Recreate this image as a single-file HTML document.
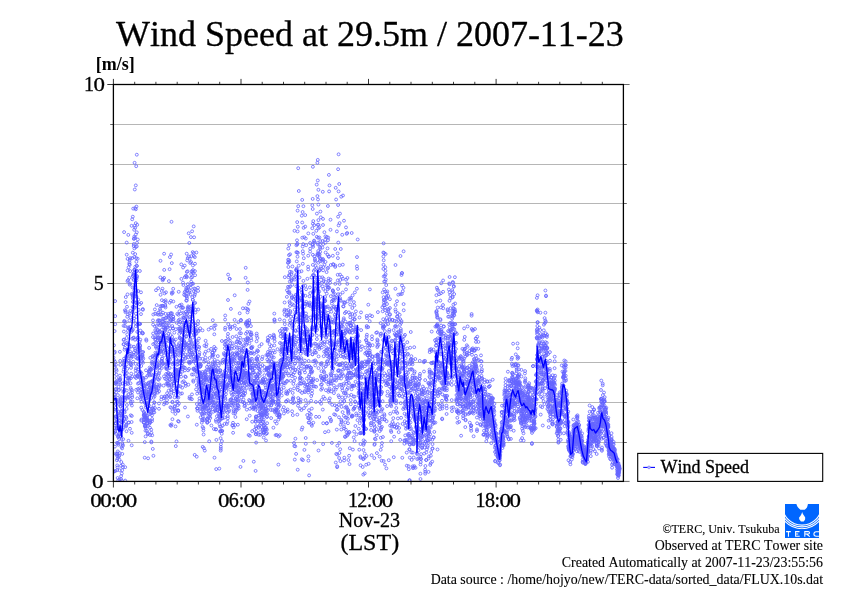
<!DOCTYPE html>
<html><head><meta charset="utf-8"><title>Wind Speed at 29.5m / 2007-11-23</title>
<style>
html,body{margin:0;padding:0;background:#fff;}
body{width:842px;height:595px;overflow:hidden;position:relative;font-family:"Liberation Serif",serif;color:#000;}
svg{position:absolute;left:0;top:0;}
text{font-family:"Liberation Serif",serif;fill:#000;font-kerning:none;font-variant-ligatures:none;stroke:#000;stroke-width:0.3px;}
</style></head><body>
<svg width="842" height="595" viewBox="0 0 842 595" style="will-change:transform">
<defs>
<marker id="m" markerUnits="userSpaceOnUse" markerWidth="6" markerHeight="6" refX="3" refY="3" viewBox="0 0 6 6" overflow="visible"><circle cx="3" cy="3" r="1.45" fill="none" stroke="#6464ff" stroke-width="0.8"/></marker>
<clipPath id="cp"><rect x="113.4" y="84.9" width="510.2" height="396.9"/></clipPath>
</defs>
<rect width="842" height="595" fill="#fff"/>
<!-- title -->
<text id="title" x="369.9" y="46.3" font-size="36" text-anchor="middle">Wind Speed at 29.5m / 2007-11-23</text>
<text id="unit" x="95.7" y="69.8" font-size="18" font-weight="bold" style="stroke-width:0">[m/s]</text>
<!-- grid -->
<line x1="113.4" y1="442.5" x2="623.6" y2="442.5" stroke="#b6b6b6" stroke-width="1" shape-rendering="crispEdges"/>
<line x1="113.4" y1="402.5" x2="623.6" y2="402.5" stroke="#b6b6b6" stroke-width="1" shape-rendering="crispEdges"/>
<line x1="113.4" y1="362.5" x2="623.6" y2="362.5" stroke="#b6b6b6" stroke-width="1" shape-rendering="crispEdges"/>
<line x1="113.4" y1="322.5" x2="623.6" y2="322.5" stroke="#b6b6b6" stroke-width="1" shape-rendering="crispEdges"/>
<line x1="113.4" y1="283.5" x2="623.6" y2="283.5" stroke="#b6b6b6" stroke-width="1" shape-rendering="crispEdges"/>
<line x1="113.4" y1="243.5" x2="623.6" y2="243.5" stroke="#b6b6b6" stroke-width="1" shape-rendering="crispEdges"/>
<line x1="113.4" y1="203.5" x2="623.6" y2="203.5" stroke="#b6b6b6" stroke-width="1" shape-rendering="crispEdges"/>
<line x1="113.4" y1="164.5" x2="623.6" y2="164.5" stroke="#b6b6b6" stroke-width="1" shape-rendering="crispEdges"/>
<line x1="113.4" y1="124.5" x2="623.6" y2="124.5" stroke="#b6b6b6" stroke-width="1" shape-rendering="crispEdges"/>
<!-- scatter -->
<g clip-path="url(#cp)">
<polyline fill="none" stroke="none" marker-start="url(#m)" marker-mid="url(#m)" marker-end="url(#m)" points="113.4,399.5 113.5,357.3 113.5,403.6 113.6,411.3 113.6,409.3 113.7,432.5 113.8,471.5 113.8,417.6 113.9,397.8 113.9,471.5 114,360.3 114,345.3 114.1,391.5 114.2,365.2 114.2,394.6 114.3,399 114.3,373.2 114.4,427.6 114.5,396.6 114.5,352.9 114.6,331.1 114.6,366.9 114.7,351.7 114.8,425.7 114.8,421.2 114.9,397.5 114.9,446.6 115,430.8 115,361.7 115.1,301.1 115.2,316.1 115.2,324.2 115.3,383.4 115.3,432 115.4,471 115.5,422.9 115.5,389.1 115.6,416.3 115.6,453.8 115.7,423.4 115.8,404.1 115.8,407.7 115.9,364.8 115.9,382.4 116,392.4 116,433.8 116.1,416.8 116.2,369.2 116.2,381.6 116.3,389.1 116.3,382.9 116.4,384.3 116.5,378 116.5,374.6 116.6,370.7 116.6,409.6 116.7,401.1 116.8,454.1 116.8,428.4 116.9,460.3 116.9,442.8 117,417.1 117,427.8 117.1,419.8 117.2,465.4 117.2,470.1 117.3,428.3 117.3,456 117.4,422.3 117.5,458.7 117.5,467.4 117.6,478 117.6,453.4 117.7,425.7 117.8,451.4 117.8,443.6 117.9,395.1 117.9,413.5 118,437.1 118,422 118.1,427.8 118.2,442.9 118.2,480.5 118.3,436.3 118.3,444.8 118.4,435.9 118.5,456.9 118.5,412.1 118.6,399.4 118.6,386.9 118.7,403.5 118.8,400.7 118.8,389.7 118.9,380.4 118.9,390.2 119,404.6 119,420.3 119.1,439.1 119.2,455.9 119.2,433.6 119.3,434.8 119.3,479.5 119.4,459.7 119.5,418.2 119.5,425.8 119.6,470.3 119.6,453.1 119.7,420.3 119.7,415.2 119.8,427.3 119.9,380 119.9,351.8 120,379.6 120,375.6 120.1,382.8 120.2,378.6 120.2,360.9 120.3,364.9 120.3,384.1 120.4,413.8 120.5,436.2 120.5,430.2 120.6,398.3 120.6,400 120.7,406.8 120.7,406.2 120.8,411.1 120.9,402.2 120.9,436.4 121,479 121,465.8 121.1,476.1 121.2,415.3 121.2,421.5 121.3,427.6 121.3,462 121.4,439.1 121.5,447 121.5,411.3 121.6,397 121.6,424.8 121.7,414.8 121.7,480.6 121.8,473.5 121.9,422.6 121.9,403.1 122,405.2 122,411.1 122.1,448.4 122.2,470.2 122.2,443 122.3,388.9 122.3,453.9 122.4,422.2 122.5,403.7 122.5,383.5 122.6,417.2 122.6,429.1 122.7,420.8 122.7,444.5 122.8,464.6 122.9,467.2 122.9,445.8 123,420.4 123,415.9 123.1,410.1 123.2,427.6 123.2,439.2 123.3,392 123.3,397.2 123.4,400.8 123.5,371.7 123.5,344.3 123.6,325.8 123.6,340 123.7,362.5 123.7,364.9 123.8,369.4 123.9,331.5 123.9,344.1 124,339.5 124,358.7 124.1,321.6 124.2,418.9 124.2,391.3 124.3,360.7 124.3,411.4 124.4,320.9 124.5,349.7 124.5,367.3 124.6,412.4 124.6,365.2 124.7,361.1 124.7,389.7 124.8,375 124.9,347.8 124.9,310.2 125,326 125,382.4 125.1,400.1 125.2,480.6 125.2,467.2 125.3,397.8 125.3,367.1 125.4,372 125.5,384.4 125.5,312.2 125.6,322.2 125.6,302.1 125.7,311 125.7,360.6 125.8,297.1 125.9,376.1 125.9,421.9 126,416.9 126,426.5 126.1,424.9 126.2,425.5 126.2,357.8 126.3,356.9 126.3,343.3 126.4,418.2 126.5,431.2 126.5,356 126.6,408.9 126.6,338 126.7,390.4 126.7,364.4 126.8,397.9 126.9,373 126.9,405 127,396.4 127,306.8 127.1,342.5 127.2,334.4 127.2,316.8 127.3,383.2 127.3,368.8 127.4,380.8 127.5,294.4 127.5,281.2 127.6,258.9 127.6,270.4 127.7,344.5 127.7,352.6 127.8,351.9 127.9,330.8 127.9,378.1 128,360.4 128,314.3 128.1,280.1 128.2,349.9 128.2,327.4 128.3,328.2 128.3,384 128.4,348.5 128.5,440.8 128.5,394.2 128.6,267.3 128.6,344.6 128.7,344.4 128.7,422.6 128.8,422.5 128.9,360.9 128.9,397.3 129,377.5 129,378.5 129.1,379.9 129.2,356.6 129.2,329.3 129.3,277.8 129.3,264.1 129.4,320.5 129.5,262.4 129.5,328.2 129.6,347 129.6,313.4 129.7,284.7 129.7,259.9 129.8,264.8 129.9,351.3 129.9,355.7 130,428.8 130,398.6 130.1,283.6 130.2,271.1 130.2,326.9 130.3,311 130.3,362.7 130.4,393.2 130.5,364.1 130.5,383.3 130.6,387.8 130.6,317.4 130.7,389.3 130.7,415.3 130.8,401.9 130.9,378.2 130.9,364.4 131,403.5 131,367.9 131.1,357.9 131.2,331.9 131.2,373.6 131.3,346.4 131.3,330.2 131.4,356.1 131.4,353.7 131.5,365.2 131.6,294 131.6,422 131.7,432.8 131.7,445.3 131.8,416 131.9,405.5 131.9,390.1 132,338.7 132,392.3 132.1,395.4 132.2,376.6 132.2,397.2 132.3,356.6 132.3,330.6 132.4,354.4 132.4,401.5 132.5,312 132.6,295.7 132.6,287.5 132.7,297.7 132.7,306.9 132.8,276 132.9,294.3 132.9,329.4 133,295.7 133,302 133.1,338.1 133.2,361.8 133.2,299.1 133.3,278.8 133.3,309.3 133.4,273.8 133.4,320.6 133.5,301.5 133.6,306.8 133.6,274.9 133.7,246 133.7,280.1 133.8,275.1 133.9,337.6 133.9,352.3 134,346.7 134,318.6 134.1,272.8 134.2,269.9 134.2,229.8 134.3,290.7 134.3,236.6 134.4,287.3 134.4,248.4 134.5,307.8 134.6,293.1 134.6,295.5 134.7,277.8 134.7,269.4 134.8,284.3 134.9,294.1 134.9,287.5 135,339.7 135,348.5 135.1,376.9 135.2,350.4 135.2,270.1 135.3,266.7 135.3,296.3 135.4,323.1 135.4,274.3 135.5,302.5 135.6,354.5 135.6,363.9 135.7,370.4 135.7,373.6 135.8,326.2 135.9,313.7 135.9,357.5 136,353.8 136,368.3 136.1,378 136.2,389.8 136.2,305.5 136.3,316.9 136.3,290.9 136.4,261.8 136.4,296.7 136.5,280.5 136.6,270.6 136.6,278.3 136.7,302.4 136.7,265.7 136.8,277.1 136.9,266 136.9,271.2 137,242.9 137,276.1 137.1,324.6 137.2,351.5 137.2,358.6 137.3,331.9 137.3,398.3 137.4,376.5 137.4,358.3 137.5,375.8 137.6,338.1 137.6,303 137.7,339.8 137.7,350 137.8,369.6 137.9,345 137.9,383.6 138,392.5 138,389 138.1,337.3 138.2,299.6 138.2,291 138.3,351.8 138.3,346.5 138.4,369.2 138.4,347.3 138.5,376.1 138.6,374.3 138.6,364.6 138.7,343.9 138.7,348.4 138.8,309.9 138.9,323.5 138.9,383 139,347.4 139,358 139.1,373.6 139.2,323.9 139.2,364.9 139.3,360 139.3,376.9 139.4,333.2 139.4,354.4 139.5,350.7 139.6,388.3 139.6,341.8 139.7,377.6 139.7,349.2 139.8,324 139.9,304.2 139.9,271 140,348.3 140,345 140.1,350.4 140.2,346.1 140.2,323.9 140.3,339.7 140.3,372.2 140.4,373.1 140.4,330.6 140.5,376.5 140.6,372 140.6,392.6 140.7,358.1 140.7,399.2 140.8,395.7 140.9,389.3 140.9,380.2 141,314.1 141,292.3 141.1,356.8 141.2,302.9 141.2,366 141.3,407.6 141.3,420.6 141.4,401.8 141.4,381.4 141.5,419.5 141.6,397.1 141.6,395.2 141.7,373.7 141.7,384.3 141.8,362 141.9,355.9 141.9,391.7 142,354.7 142,360.9 142.1,352.1 142.2,332.5 142.2,377.4 142.3,381.7 142.3,398.8 142.4,410 142.4,395.8 142.5,384.9 142.6,355.1 142.6,333.5 142.7,357.3 142.7,387.8 142.8,309 142.9,309.8 142.9,333.2 143,378.7 143,391.5 143.1,385.2 143.1,362.7 143.2,352 143.3,358.7 143.3,377.9 143.4,380.1 143.4,391.1 143.5,390.2 143.6,393.2 143.6,382.8 143.7,419.1 143.7,415.1 143.8,411.8 143.9,422.3 143.9,414.9 144,423 144,422.5 144.1,417 144.1,413 144.2,415.5 144.3,388.7 144.3,388.1 144.4,385.4 144.4,385.7 144.5,402.5 144.6,414.9 144.6,393.9 144.7,401.9 144.7,457.7 144.8,442.1 144.9,425.7 144.9,426.1 145,417.4 145,418.9 145.1,417.8 145.1,413.8 145.2,426.4 145.3,417.3 145.3,394.5 145.4,384.2 145.4,419.6 145.5,430.7 145.6,436.4 145.6,427.8 145.7,405.4 145.7,398.7 145.8,426.3 145.9,416.8 145.9,398.3 146,407.6 146,370.3 146.1,396.5 146.1,377.5 146.2,339.4 146.3,392.6 146.3,402.9 146.4,393.6 146.4,340.7 146.5,398.4 146.6,391.1 146.6,391.8 146.7,404.5 146.7,417.6 146.8,420.5 146.9,419.2 146.9,430.9 147,397.8 147,418.3 147.1,419.9 147.1,423.9 147.2,423.1 147.3,415.7 147.3,423 147.4,420.3 147.4,386.9 147.5,375.8 147.6,394.7 147.6,384 147.7,407 147.7,403.9 147.8,425.9 147.9,433.2 147.9,434.2 148,406.7 148,402.9 148.1,458.3 148.1,397 148.2,394.3 148.3,391.6 148.3,383.3 148.4,389.5 148.4,410.9 148.5,420.1 148.6,394.4 148.6,371.5 148.7,374.3 148.7,414.4 148.8,382.6 148.9,385.1 148.9,393.8 149,397 149,405.4 149.1,371.1 149.1,347.9 149.2,392.3 149.3,399.3 149.3,394.6 149.4,372.4 149.4,423.8 149.5,400.2 149.6,367.6 149.6,387.7 149.7,393.4 149.7,371.2 149.8,375.4 149.9,408.9 149.9,422.5 150,427.8 150,435 150.1,422.5 150.1,420.9 150.2,411.5 150.3,393.6 150.3,357.8 150.4,369.7 150.4,414 150.5,381.9 150.6,390.1 150.6,368.8 150.7,389.1 150.7,386 150.8,392.4 150.9,394.1 150.9,368.7 151,392.7 151,390.5 151.1,388 151.1,397.9 151.2,429.7 151.3,412.1 151.3,441.5 151.4,442.4 151.4,432.8 151.5,413.1 151.6,390.2 151.6,374.6 151.7,369.6 151.7,386.7 151.8,363.4 151.9,381.2 151.9,361.6 152,415.3 152,421.1 152.1,419 152.1,408.8 152.2,435.3 152.3,408.1 152.3,382.2 152.4,368.4 152.4,387.6 152.5,356.2 152.6,381.6 152.6,364.5 152.7,375.5 152.7,380.7 152.8,448.9 152.9,386.9 152.9,362.4 153,337.1 153,320.4 153.1,324.6 153.1,333.5 153.2,344.2 153.3,314.5 153.3,356.1 153.4,381.5 153.4,455.8 153.5,412.4 153.6,405.5 153.6,397.7 153.7,409.9 153.7,409.3 153.8,385.1 153.9,387.9 153.9,383.1 154,357.9 154,380.4 154.1,402.2 154.1,394 154.2,378.8 154.3,412.4 154.3,386.9 154.4,389.3 154.4,392.6 154.5,402.7 154.6,396.1 154.6,366.7 154.7,357.1 154.7,343.4 154.8,365 154.9,326.4 154.9,309.4 155,337.3 155,408.1 155.1,393.7 155.1,313.7 155.2,339.8 155.3,377.2 155.3,330.1 155.4,362.6 155.4,352.7 155.5,339 155.6,386.2 155.6,376.4 155.7,342.8 155.7,361.4 155.8,346.9 155.8,355.7 155.9,332.3 156,290.2 156,354.2 156.1,366 156.1,355.7 156.2,374.8 156.3,389.1 156.3,387.2 156.4,384.4 156.4,390.6 156.5,372.9 156.6,348.4 156.6,333.6 156.7,326.1 156.7,305.1 156.8,366.4 156.8,367.3 156.9,360.1 157,346.5 157,390.4 157.1,330 157.1,365.9 157.2,356.7 157.3,337.6 157.3,314.2 157.4,352.3 157.4,368.5 157.5,355.1 157.6,340.4 157.6,321.2 157.7,338.4 157.7,364.8 157.8,392.6 157.8,334.7 157.9,379.1 158,353.2 158,347.5 158.1,330 158.1,312.7 158.2,288.2 158.3,320.1 158.3,323.9 158.4,386.9 158.4,374.7 158.5,388.4 158.6,379.9 158.6,337.8 158.7,342 158.7,314.7 158.8,337.4 158.8,332.7 158.9,352.9 159,408.8 159,403.5 159.1,391.3 159.1,373.3 159.2,365 159.3,363 159.3,331.7 159.4,320.6 159.4,344.6 159.5,320.8 159.6,384.5 159.6,378.1 159.7,370.8 159.7,325.2 159.8,350.2 159.8,385.8 159.9,367.3 160,309.1 160,331.4 160.1,340.5 160.1,348.9 160.2,346.6 160.3,306.3 160.3,323.3 160.4,277.4 160.4,310.7 160.5,260.8 160.6,294.8 160.6,314.6 160.7,338.6 160.7,350.6 160.8,342 160.8,351.8 160.9,337.5 161,338.3 161,324.6 161.1,344.6 161.1,350.8 161.2,341.9 161.3,399.5 161.3,340.4 161.4,306 161.4,354.3 161.5,396.8 161.6,360.7 161.6,361.1 161.7,314.5 161.7,329.8 161.8,368 161.8,290.9 161.9,300.2 162,332.9 162,358.6 162.1,336.8 162.1,358.5 162.2,341.7 162.3,305.8 162.3,361.8 162.4,364 162.4,342.5 162.5,288.7 162.6,279 162.6,321.3 162.7,280.4 162.7,318.8 162.8,333.5 162.8,325.3 162.9,363.1 163,305.9 163,312.7 163.1,279.2 163.1,324.5 163.2,364.1 163.3,344.8 163.3,322 163.4,341.7 163.4,346.9 163.5,327.5 163.6,334.8 163.6,385.6 163.7,351.9 163.7,340.9 163.8,318.8 163.8,350.8 163.9,398.3 164,404.4 164,376.4 164.1,301.2 164.1,277.9 164.2,269.9 164.3,347.6 164.3,355.5 164.4,338.2 164.4,327.5 164.5,331.6 164.6,293.4 164.6,343 164.7,396.4 164.7,397 164.8,402.8 164.8,322.6 164.9,337.8 165,378.5 165,350.1 165.1,318.5 165.1,328.7 165.2,330.4 165.3,305 165.3,306.2 165.4,344.6 165.4,328.6 165.5,307.5 165.6,313.9 165.6,300.3 165.7,302 165.7,329.4 165.8,342.1 165.8,327.3 165.9,352.5 166,317.8 166,292.3 166.1,374 166.1,367.2 166.2,379.5 166.3,383.9 166.3,368.7 166.4,366.8 166.4,346.4 166.5,340.3 166.6,335.3 166.6,364 166.7,369 166.7,322.6 166.8,396.6 166.8,337.7 166.9,403 167,325.4 167,400.1 167.1,393.2 167.1,359.4 167.2,354.6 167.3,327.1 167.3,363.2 167.4,374.7 167.4,383.3 167.5,361.4 167.5,348 167.6,355.6 167.7,363.6 167.7,369 167.8,363 167.8,383.9 167.9,376 168,373.2 168,380.7 168.1,385.7 168.1,338.3 168.2,363.6 168.3,352.1 168.3,317.1 168.4,313.9 168.4,333.8 168.5,316.2 168.5,372.9 168.6,395.1 168.7,390.6 168.7,383.9 168.8,376.7 168.8,318.1 168.9,281.1 169,315.5 169,325.4 169.1,362.7 169.1,351.6 169.2,385.5 169.3,337.4 169.3,358.3 169.4,341.3 169.4,379.1 169.5,331.5 169.5,321.8 169.6,269.2 169.7,302.7 169.7,368 169.8,380.1 169.8,396.5 169.9,338.4 170,359.6 170,374.1 170.1,348.1 170.1,340.1 170.2,328.5 170.3,350.9 170.3,397.2 170.4,407.2 170.4,425 170.5,374 170.5,340.1 170.6,354.4 170.7,335.1 170.7,321.3 170.8,313.9 170.8,313 170.9,300.9 171,320 171,389.5 171.1,425.8 171.1,376.3 171.2,351.8 171.3,407.9 171.3,385.1 171.4,392.6 171.4,390.3 171.5,424.3 171.5,386.4 171.6,376.4 171.7,346.7 171.7,318.1 171.8,292.6 171.8,263.1 171.9,293.8 172,313.4 172,349.1 172.1,336.9 172.1,351 172.2,381.6 172.3,340.3 172.3,326 172.4,401.8 172.4,419.2 172.5,402.3 172.5,411.4 172.6,364.2 172.7,356.3 172.7,340.6 172.8,319.5 172.8,292.6 172.9,328.3 173,321.3 173,328.6 173.1,316.5 173.1,316.8 173.2,288.8 173.3,301.5 173.3,339.7 173.4,344 173.4,378.2 173.5,362.8 173.5,319 173.6,352.8 173.7,393.7 173.7,382.9 173.8,385.6 173.8,376.1 173.9,383.7 174,373.2 174,391.3 174.1,341.3 174.1,355.8 174.2,344.9 174.3,332.7 174.3,351.6 174.4,347.3 174.4,363.4 174.5,377.5 174.5,381.3 174.6,368.3 174.7,397.4 174.7,405.9 174.8,409 174.8,406.9 174.9,371.1 175,373.8 175,381.4 175.1,376.4 175.1,351.6 175.2,379.2 175.3,354.8 175.3,410.7 175.4,413.9 175.4,370.9 175.5,426.4 175.5,349.2 175.6,371.4 175.7,355.3 175.7,374.5 175.8,339.5 175.8,446.1 175.9,329.2 176,371.1 176,352.3 176.1,369.9 176.1,379.4 176.2,388.7 176.3,388.2 176.3,375.2 176.4,359 176.4,348.7 176.5,306.8 176.5,441.4 176.6,322.7 176.7,364.7 176.7,376.5 176.8,401.7 176.8,370.2 176.9,370.2 177,373.1 177,380.2 177.1,361.3 177.1,380.7 177.2,372.8 177.3,313.9 177.3,346.8 177.4,374.9 177.4,397.1 177.5,373.6 177.5,374.3 177.6,391.4 177.7,401.9 177.7,392.2 177.8,405.1 177.8,348.3 177.9,364.4 178,373 178,375.9 178.1,410.1 178.1,421.1 178.2,410.7 178.3,397.6 178.3,411 178.4,361 178.4,354.7 178.5,328.6 178.5,314.8 178.6,345 178.7,291.8 178.7,320.2 178.8,385.9 178.8,421.6 178.9,403.6 179,372.4 179,369.4 179.1,324.3 179.1,350.6 179.2,343.2 179.2,333.9 179.3,372.7 179.4,363.1 179.4,355.5 179.5,331 179.5,311.3 179.6,305.6 179.7,351.5 179.7,337.8 179.8,319.4 179.8,337.6 179.9,328.3 180,321.9 180,305.4 180.1,328.3 180.1,330 180.2,338.7 180.2,347.1 180.3,368.7 180.4,374.2 180.4,393.8 180.5,386.3 180.5,361 180.6,345.6 180.7,332.1 180.7,347 180.8,313.4 180.8,345.6 180.9,330.3 181,330.5 181,361.4 181.1,376.7 181.1,350.5 181.2,352 181.2,346.5 181.3,264.4 181.4,278.9 181.4,307.8 181.5,304.6 181.5,342.3 181.6,351.2 181.7,339.4 181.7,365.5 181.8,360.6 181.8,361.2 181.9,353.9 182,393.4 182,330.6 182.1,340.2 182.1,327.2 182.2,363.3 182.2,387.7 182.3,371.6 182.4,369.5 182.4,342.4 182.5,367.4 182.5,382.1 182.6,359 182.7,332.8 182.7,308 182.8,322.8 182.8,322.2 182.9,352.3 183,307.5 183,282.6 183.1,267.5 183.1,347.5 183.2,317.2 183.2,347 183.3,328.5 183.4,318.5 183.4,285 183.5,312.6 183.5,332.4 183.6,361.7 183.7,381.2 183.7,348.2 183.8,367.1 183.8,335 183.9,345.3 184,356.2 184,317.7 184.1,294.7 184.1,340.8 184.2,341.8 184.2,337.5 184.3,313.5 184.4,342.8 184.4,349.9 184.5,345.4 184.5,317.7 184.6,292.4 184.7,325.4 184.7,265.6 184.8,277.1 184.8,325.3 184.9,370.4 185,367.9 185,407.5 185.1,376.5 185.1,342.9 185.2,295.4 185.2,291.4 185.3,358.6 185.4,354.6 185.4,322.6 185.5,383.7 185.5,383.3 185.6,345.4 185.7,336.3 185.7,385.9 185.8,377 185.8,357.6 185.9,275.8 186,311.7 186,345.2 186.1,329.7 186.1,316.8 186.2,300.5 186.2,289.3 186.3,287.8 186.4,346.6 186.4,336.6 186.5,331.2 186.5,295.9 186.6,277.3 186.7,321.9 186.7,296.8 186.8,271.9 186.8,300.6 186.9,276.5 187,290.6 187,298.4 187.1,314.1 187.1,290.6 187.2,313 187.2,260.4 187.3,317.4 187.4,327.8 187.4,344.4 187.5,326.8 187.5,330.5 187.6,271.3 187.7,287.4 187.7,307.8 187.8,284.1 187.8,308.7 187.9,416.5 188,333.8 188,326.3 188.1,370.3 188.1,306.4 188.2,357.3 188.2,354.2 188.3,348.9 188.4,384.7 188.4,286.7 188.5,309.5 188.5,293.6 188.6,311.8 188.7,361.7 188.7,342.8 188.8,331.5 188.8,256.5 188.9,307.3 189,362.5 189,368.9 189.1,345.6 189.1,322.1 189.2,347.8 189.2,351.1 189.3,326.7 189.4,292.3 189.4,327.8 189.5,325.3 189.5,398.5 189.6,396.9 189.7,363.4 189.7,352 189.8,349.6 189.8,290.5 189.9,316.9 190,354.9 190,339.3 190.1,329.3 190.1,362.2 190.2,319.3 190.2,263 190.3,311.2 190.4,345 190.4,340.7 190.5,294.5 190.5,326.4 190.6,348.4 190.7,356.8 190.7,398.6 190.8,326.3 190.8,331.2 190.9,287.8 190.9,237.1 191,284.3 191.1,262 191.1,277.8 191.2,281.8 191.2,274 191.3,306.3 191.4,309.1 191.4,357.7 191.5,350 191.5,316.2 191.6,361.5 191.7,342.2 191.7,271.3 191.8,312.6 191.8,343.8 191.9,399.2 191.9,374.5 192,394.4 192.1,352.8 192.1,283.8 192.2,277.2 192.2,321.4 192.3,297.1 192.4,321.2 192.4,354.2 192.5,354.5 192.5,332.6 192.6,337.6 192.7,311.5 192.7,271.6 192.8,273.1 192.8,299.9 192.9,299.8 192.9,265.5 193,270.1 193.1,283.7 193.1,309.2 193.2,306.2 193.2,380.5 193.3,369 193.4,374.5 193.4,381.7 193.5,308.1 193.5,361.4 193.6,352.4 193.7,346.8 193.7,323 193.8,291.2 193.8,356.3 193.9,361.2 193.9,368.5 194,334.4 194.1,303.3 194.1,328.7 194.2,346.8 194.2,369.5 194.3,346.3 194.4,288.5 194.4,296 194.5,335.2 194.5,359.7 194.6,370.2 194.7,454.9 194.7,329.6 194.8,331.9 194.8,345.2 194.9,271.1 194.9,294.4 195,263.7 195.1,289.1 195.1,275.2 195.2,302.9 195.2,332 195.3,325.7 195.4,312.5 195.4,292.3 195.5,309.7 195.5,333.5 195.6,350.2 195.7,341.6 195.7,358.2 195.8,363.8 195.8,344.6 195.9,331.1 195.9,325.3 196,356.9 196.1,389.4 196.1,369.5 196.2,360.6 196.2,367.7 196.3,357.5 196.4,333.7 196.4,348.3 196.5,340.9 196.5,372 196.6,371.5 196.7,385.2 196.7,456.7 196.8,378.6 196.8,424.7 196.9,404.1 196.9,370.8 197,357 197.1,393.6 197.1,376.2 197.2,408.2 197.2,408.4 197.3,360 197.4,357.6 197.4,329.2 197.5,371.3 197.5,410.8 197.6,408.5 197.7,365.1 197.7,342.6 197.8,324.1 197.8,346.4 197.9,357.6 197.9,366.8 198,287.7 198.1,321.1 198.1,290.9 198.2,330.6 198.2,309.5 198.3,363.4 198.4,377.9 198.4,367.5 198.5,381.9 198.5,386.8 198.6,384.8 198.7,391.4 198.7,349.2 198.8,331 198.8,381.7 198.9,338.6 198.9,355.2 199,364.5 199.1,373 199.1,354.6 199.2,347 199.2,371.7 199.3,373.2 199.4,401.1 199.4,352.5 199.5,382.1 199.5,398.4 199.6,404.4 199.7,392.7 199.7,372.6 199.8,383.4 199.8,382.2 199.9,388.8 199.9,358.7 200,363.6 200.1,404.4 200.1,366.6 200.2,366.4 200.2,328.3 200.3,366.5 200.4,384.2 200.4,388 200.5,411.8 200.5,408.3 200.6,375.8 200.7,365.4 200.7,417.3 200.8,382.7 200.8,377.5 200.9,364.7 200.9,373.6 201,375.9 201.1,380.1 201.1,382.9 201.2,404.2 201.2,379.2 201.3,379.5 201.4,376.5 201.4,375.6 201.5,387.9 201.5,390.6 201.6,413.6 201.7,401.2 201.7,392.9 201.8,397.3 201.8,422.7 201.9,389.4 201.9,394.3 202,394.5 202.1,399.8 202.1,407.6 202.2,409.1 202.2,420.5 202.3,419.6 202.4,373.8 202.4,358.8 202.5,330.4 202.5,372 202.6,414.1 202.6,426.9 202.7,446.9 202.8,416 202.8,387.8 202.9,389.6 202.9,385.9 203,383.9 203.1,391.6 203.1,380.8 203.2,405.3 203.2,409.5 203.3,407.4 203.4,428.2 203.4,430.5 203.5,412.3 203.5,401 203.6,434.5 203.6,408 203.7,398 203.8,384 203.8,390.6 203.9,382.6 203.9,448.2 204,408.5 204.1,420.1 204.1,418.9 204.2,391.1 204.2,361.8 204.3,375.8 204.4,392.4 204.4,379.6 204.5,377.8 204.5,345.7 204.6,354 204.6,413.1 204.7,405.5 204.8,406.9 204.8,450.6 204.9,405.4 204.9,400.3 205,404 205.1,372.4 205.1,374.1 205.2,374.4 205.2,379.3 205.3,360.5 205.4,395.2 205.4,371.2 205.5,384.6 205.5,357.6 205.6,340.8 205.6,351.8 205.7,377.8 205.8,377.8 205.8,376.1 205.9,407.9 205.9,406.5 206,411.6 206.1,378.1 206.1,346.4 206.2,379.5 206.2,393.2 206.3,413.6 206.4,399.6 206.4,379.7 206.5,344.2 206.5,388.8 206.6,370 206.6,380.5 206.7,397.1 206.8,399.9 206.8,408.5 206.9,393.1 206.9,391.4 207,366.9 207.1,386.5 207.1,418.9 207.2,422.8 207.2,405.2 207.3,422.3 207.4,421.6 207.4,401.2 207.5,418.9 207.5,393.9 207.6,386.2 207.6,398.4 207.7,396.1 207.8,402.6 207.8,404.8 207.9,404.9 207.9,399.3 208,397.8 208.1,408 208.1,417.3 208.2,370 208.2,399.6 208.3,399.5 208.4,374.5 208.4,362.2 208.5,389.3 208.5,350.5 208.6,329.5 208.6,364.6 208.7,399.8 208.8,386.5 208.8,393.2 208.9,399.1 208.9,410.7 209,413.7 209.1,403.5 209.1,383.4 209.2,421 209.2,441.3 209.3,411 209.4,416.9 209.4,395.9 209.5,392.1 209.5,367.3 209.6,358 209.6,377.2 209.7,385.5 209.8,381 209.8,369.5 209.9,389.6 209.9,414.8 210,403.2 210.1,398 210.1,396.8 210.2,410.1 210.2,390.5 210.3,418 210.4,414 210.4,379.5 210.5,402.4 210.5,387.9 210.6,377.7 210.6,371.5 210.7,407.5 210.8,379.2 210.8,377.8 210.9,369.4 210.9,368.1 211,372.4 211.1,348.9 211.1,327.7 211.2,390.1 211.2,400.8 211.3,395.9 211.4,425.5 211.4,382.2 211.5,395.9 211.5,377.8 211.6,373.3 211.6,379.6 211.7,398.3 211.8,396.9 211.8,387.3 211.9,366.2 211.9,374.5 212,383.3 212.1,385.4 212.1,352.7 212.2,355.5 212.2,378.5 212.3,401.9 212.4,399.6 212.4,407 212.5,402.9 212.5,364.1 212.6,352.8 212.6,356.8 212.7,355 212.8,320.2 212.8,370.4 212.9,362.3 212.9,372 213,370.2 213.1,370.9 213.1,379.7 213.2,366.6 213.2,411.8 213.3,393.4 213.4,373 213.4,393.8 213.5,405.5 213.5,354.7 213.6,383.4 213.6,388.8 213.7,399.4 213.8,402.6 213.8,405.6 213.9,429 213.9,366.2 214,386.6 214.1,376.2 214.1,379.4 214.2,350.1 214.2,346.9 214.3,334.3 214.3,325.6 214.4,329 214.5,350.9 214.5,457.7 214.6,392.3 214.6,370.2 214.7,359.9 214.8,362.4 214.8,396.7 214.9,363.7 214.9,385 215,371 215.1,409.7 215.1,402.5 215.2,406.1 215.2,410.3 215.3,411 215.3,365.3 215.4,373.1 215.5,369.8 215.5,325.3 215.6,381.1 215.6,348.5 215.7,370.9 215.8,388.2 215.8,393.8 215.9,420 215.9,429.3 216,429.4 216.1,421.7 216.1,395.7 216.2,369.6 216.2,469.1 216.3,376.5 216.3,371.2 216.4,439.9 216.5,379 216.5,393.2 216.6,379.9 216.6,387.1 216.7,386.5 216.8,382.1 216.8,381.6 216.9,397.5 216.9,416.3 217,407.1 217.1,409.5 217.1,410.4 217.2,404 217.2,410.1 217.3,394.4 217.3,385.1 217.4,402.9 217.5,391.2 217.5,407.2 217.6,387.7 217.6,376.8 217.7,382.6 217.8,368.1 217.8,356.1 217.9,361.4 217.9,407.1 218,398.6 218.1,392.1 218.1,376.5 218.2,400.4 218.2,384.1 218.3,380.4 218.3,377.2 218.4,405.2 218.5,413.9 218.5,385.9 218.6,372.5 218.6,382.4 218.7,365.5 218.8,372.1 218.8,389 218.9,416.8 218.9,391.4 219,395.4 219.1,391.3 219.1,421.4 219.2,419.9 219.2,406.5 219.3,406.7 219.3,468.6 219.4,424.1 219.5,411.3 219.5,412 219.6,412 219.6,411.5 219.7,416.5 219.8,415 219.8,418.3 219.9,411.1 219.9,426.5 220,431.4 220.1,420.1 220.1,415.5 220.2,407.9 220.2,370.6 220.3,370.2 220.3,362.6 220.4,372.2 220.5,387.5 220.5,406.9 220.6,431.1 220.6,438.2 220.7,450.6 220.8,446.9 220.8,448.8 220.9,444.3 220.9,431.1 221,426.9 221.1,406.2 221.1,391.8 221.2,380.4 221.2,376.3 221.3,384.7 221.3,402.2 221.4,397.2 221.5,405 221.5,408.2 221.6,400.7 221.6,418.2 221.7,433.8 221.8,418.4 221.8,383.7 221.9,441.1 221.9,341 222,375.7 222.1,397.2 222.1,431.1 222.2,430.8 222.2,389.6 222.3,362.9 222.3,395.9 222.4,401.8 222.5,412.8 222.5,425.8 222.6,418.3 222.6,414.6 222.7,405.5 222.8,396.6 222.8,382.8 222.9,359.8 222.9,375 223,385.9 223.1,387.9 223.1,380.8 223.2,387.2 223.2,405.5 223.3,408 223.3,387.6 223.4,406 223.5,384.4 223.5,410 223.6,390.6 223.6,377.8 223.7,385.3 223.8,386 223.8,390.2 223.9,353.3 223.9,375.5 224,393 224.1,382.1 224.1,359.4 224.2,361.8 224.2,373.4 224.3,354.7 224.3,381.6 224.4,396.2 224.5,411.8 224.5,376.9 224.6,417.5 224.6,423.9 224.7,403.6 224.8,386.2 224.8,344.5 224.9,348.2 224.9,371 225,341.4 225.1,329.6 225.1,319.6 225.2,315.5 225.2,327.7 225.3,379.9 225.3,398.1 225.4,344.9 225.5,355.3 225.5,399.9 225.6,388.1 225.6,360.4 225.7,355.3 225.8,361 225.8,410.5 225.9,394.2 225.9,387.3 226,340.8 226.1,351.8 226.1,359.4 226.2,372.6 226.2,373.1 226.3,364.3 226.3,376.5 226.4,391 226.5,405.5 226.5,388.3 226.6,386.8 226.6,385.1 226.7,407.1 226.8,406.6 226.8,424 226.9,384.4 226.9,348.4 227,344.1 227,354.5 227.1,346.1 227.2,386.5 227.2,403.8 227.3,362.1 227.3,385 227.4,376.9 227.5,385.3 227.5,421.8 227.6,412.5 227.6,376.1 227.7,336.8 227.8,418.3 227.8,416.1 227.9,407.1 227.9,368.2 228,333.9 228,300 228.1,274.6 228.2,324.1 228.2,364.1 228.3,339.3 228.3,354.4 228.4,356.1 228.5,366.5 228.5,373.3 228.6,345.9 228.6,375.9 228.7,406 228.8,403.2 228.8,385.6 228.9,382.9 228.9,377.8 229,411.4 229,409.9 229.1,369.2 229.2,370.6 229.2,382.8 229.3,348.5 229.3,368.3 229.4,348.5 229.5,349.8 229.5,346 229.6,327.2 229.6,278.7 229.7,278.9 229.8,340.5 229.8,377.5 229.9,380.7 229.9,379.6 230,359.2 230,362.5 230.1,360.6 230.2,399.9 230.2,389.7 230.3,370.8 230.3,329 230.4,326.5 230.5,343.3 230.5,381.9 230.6,378.3 230.6,376.1 230.7,378 230.8,373 230.8,362.5 230.9,357.7 230.9,308.9 231,362.1 231,400.2 231.1,384.2 231.2,405.3 231.2,399.1 231.3,392.9 231.3,402.7 231.4,378.1 231.5,364.9 231.5,368.1 231.6,359.7 231.6,348.5 231.7,368.9 231.8,360.9 231.8,366.4 231.9,372.7 231.9,385.9 232,346.3 232,354.1 232.1,394.9 232.2,380.6 232.2,425.4 232.3,405.9 232.3,382.9 232.4,353.1 232.5,361.7 232.5,385.6 232.6,343.2 232.6,337 232.7,326.9 232.8,358.2 232.8,356.1 232.9,402.8 232.9,387.8 233,422.8 233,425.4 233.1,432.8 233.2,398.1 233.2,375.8 233.3,391.5 233.3,364.3 233.4,371.6 233.5,413.3 233.5,409.4 233.6,427.3 233.6,411 233.7,394.5 233.8,403.9 233.8,380.8 233.9,359.6 233.9,387.7 234,374.3 234,379.8 234.1,386.5 234.2,348 234.2,377.4 234.3,386.2 234.3,385.5 234.4,371.8 234.5,358.3 234.5,386.9 234.6,354.4 234.6,319.9 234.7,295.3 234.8,325.5 234.8,360.2 234.9,390.1 234.9,378.6 235,380.2 235,380.8 235.1,392.3 235.2,425 235.2,413.2 235.3,403.4 235.3,400.7 235.4,417 235.5,407.6 235.5,399.2 235.6,411.4 235.6,386.8 235.7,384.2 235.8,379.2 235.8,370.5 235.9,379.2 235.9,380.6 236,368.6 236,355.8 236.1,344.6 236.2,363.3 236.2,352.4 236.3,336.3 236.3,385 236.4,390.9 236.5,386.9 236.5,384 236.6,341.9 236.6,329 236.7,353.8 236.8,367.1 236.8,399.9 236.9,409.9 236.9,372.1 237,408.1 237,385.6 237.1,397.1 237.2,396.4 237.2,392.2 237.3,347.9 237.3,353.9 237.4,353.5 237.5,341.2 237.5,402.8 237.6,355.4 237.6,399.4 237.7,405.3 237.8,382.8 237.8,405.1 237.9,424.7 237.9,388 238,391.4 238,368.1 238.1,363 238.2,374.7 238.2,339.2 238.3,362.6 238.3,322.2 238.4,367.6 238.5,392.8 238.5,400.7 238.6,388.4 238.6,406.1 238.7,408.5 238.7,369 238.8,369.4 238.9,347.6 238.9,352.4 239,376.1 239,392.5 239.1,383.5 239.2,380.1 239.2,389.8 239.3,396 239.3,358.4 239.4,342.2 239.5,349.9 239.5,368.7 239.6,380.8 239.6,333.2 239.7,365.1 239.7,313.3 239.8,356 239.9,394.7 239.9,342.7 240,359 240,329 240.1,337.7 240.2,358.9 240.2,343.2 240.3,362.9 240.3,357.7 240.4,367.5 240.5,466.9 240.5,385.4 240.6,391.4 240.6,387.3 240.7,373.2 240.7,401.3 240.8,379.6 240.9,364.1 240.9,319.9 241,320.5 241,333.3 241.1,364.2 241.2,367.3 241.2,397.5 241.3,378.6 241.3,379.3 241.4,383.1 241.5,377.2 241.5,363.7 241.6,359.5 241.6,388.5 241.7,350.2 241.7,356.4 241.8,352.7 241.9,358.3 241.9,382.4 242,370.2 242,377.4 242.1,391.2 242.2,379.3 242.2,357.2 242.3,346.6 242.3,350.5 242.4,371.6 242.5,377.3 242.5,376.5 242.6,402 242.6,372.2 242.7,368.6 242.7,395.2 242.8,351.5 242.9,308.3 242.9,365.7 243,371 243,387.9 243.1,363.8 243.2,394.9 243.2,374.8 243.3,364.2 243.3,339.9 243.4,460.9 243.5,399.6 243.5,392.5 243.6,362.8 243.6,363.4 243.7,348 243.7,345.5 243.8,375.4 243.9,375.2 243.9,381 244,382.6 244,395.5 244.1,368.6 244.2,361.2 244.2,403.1 244.3,374.1 244.3,383.4 244.4,406.2 244.5,365.5 244.5,366.3 244.6,357.9 244.6,364.3 244.7,365.7 244.7,403.1 244.8,372.9 244.9,385.7 244.9,377.3 245,374.2 245,391 245.1,405.6 245.2,393.2 245.2,352.7 245.3,372.5 245.3,382.3 245.4,372.8 245.5,381.9 245.5,343.1 245.6,339.5 245.6,277.8 245.7,308.3 245.7,267.8 245.8,324.1 245.9,333.7 245.9,370.8 246,375.8 246,377 246.1,356.2 246.2,322.3 246.2,344.8 246.3,384.4 246.3,374.9 246.4,372.8 246.5,378.5 246.5,350.2 246.6,323.7 246.6,355.9 246.7,373.5 246.7,419.2 246.8,409.6 246.9,373.1 246.9,387.9 247,355.7 247,340.2 247.1,332 247.2,326.5 247.2,342.4 247.3,322.5 247.3,308.9 247.4,321 247.5,338.4 247.5,312.4 247.6,289.9 247.6,337.5 247.7,325.2 247.7,338.7 247.8,282.5 247.9,325.7 247.9,356.4 248,379.9 248,352.4 248.1,381.1 248.2,360.3 248.2,374.2 248.3,339.3 248.3,309.9 248.4,303.9 248.5,377.7 248.5,403.3 248.6,435 248.6,361 248.7,378.2 248.7,384.3 248.8,378.9 248.9,363.7 248.9,375.1 249,373.4 249,374.1 249.1,400 249.2,352.2 249.2,320.1 249.3,343.5 249.3,360.4 249.4,322.7 249.5,301.5 249.5,323 249.6,332 249.6,361 249.7,361.2 249.7,415.7 249.8,435.8 249.9,408.8 249.9,400.9 250,384.8 250,380.9 250.1,367.6 250.2,366.8 250.2,375.3 250.3,368 250.3,385.8 250.4,353.3 250.4,384 250.5,389.7 250.6,367.2 250.6,379.5 250.7,359.2 250.7,334.2 250.8,334.9 250.9,363.4 250.9,326.1 251,338.1 251,376 251.1,332.5 251.2,348.2 251.2,347.4 251.3,340.3 251.3,367.9 251.4,353.3 251.4,389.2 251.5,403.3 251.6,401.3 251.6,348 251.7,348 251.7,334.7 251.8,363.4 251.9,358.8 251.9,407.3 252,401.4 252,385.1 252.1,393.8 252.2,421.7 252.2,431.1 252.3,402.7 252.3,367.9 252.4,380.6 252.4,346.8 252.5,387.4 252.6,372.7 252.6,370.1 252.7,352.4 252.7,394.1 252.8,369.7 252.9,372.5 252.9,392.9 253,397.2 253,395.7 253.1,385.7 253.2,400.5 253.2,409 253.3,398.3 253.3,393.9 253.4,381.3 253.4,365.2 253.5,407.7 253.6,401.3 253.6,391.7 253.7,389.3 253.7,407.5 253.8,461.7 253.9,353.8 253.9,372.4 254,394.2 254,378.2 254.1,382.9 254.2,384 254.2,382.8 254.3,394.6 254.3,393.7 254.4,405.4 254.4,429.8 254.5,399.7 254.6,392.1 254.6,393.8 254.7,368.5 254.7,382 254.8,365.5 254.9,361.2 254.9,380.8 255,407.9 255,395 255.1,391.2 255.2,374.5 255.2,409.6 255.3,406.4 255.3,398.6 255.4,392 255.4,391.9 255.5,388.6 255.6,470.9 255.6,421 255.7,421.9 255.7,433.9 255.8,419.3 255.9,416.9 255.9,426.2 256,434.3 256,416.4 256.1,442.6 256.2,428.1 256.2,432 256.3,417.4 256.3,377 256.4,366.1 256.4,380.3 256.5,358.3 256.6,335.7 256.6,341.3 256.7,333.6 256.7,352 256.8,358.3 256.9,376 256.9,391.2 257,392.8 257,406.8 257.1,403.9 257.2,359.3 257.2,359.9 257.3,378 257.3,350.3 257.4,338 257.4,382.7 257.5,399.2 257.6,364.1 257.6,374 257.7,378 257.7,393.2 257.8,411.1 257.9,383.2 257.9,400.7 258,387.1 258,351.1 258.1,356.3 258.2,374.6 258.2,368.2 258.3,365.6 258.3,384.1 258.4,380.8 258.4,405.7 258.5,426.6 258.6,421.3 258.6,434.8 258.7,427.8 258.7,415.8 258.8,403 258.9,362.3 258.9,391.6 259,399.3 259,403.8 259.1,415.2 259.2,368.7 259.2,392.5 259.3,396.3 259.3,397.4 259.4,346.3 259.4,371.9 259.5,394.3 259.6,369.7 259.6,391.3 259.7,425.4 259.7,394.2 259.8,375.9 259.9,408 259.9,421.6 260,411.6 260,419.8 260.1,432.1 260.2,434.8 260.2,391.2 260.3,372.5 260.3,401.1 260.4,401.5 260.4,397.5 260.5,402.8 260.6,400.9 260.6,366.7 260.7,391.3 260.7,406.8 260.8,404 260.9,412.5 260.9,413.9 261,414.8 261,423.5 261.1,394.6 261.2,407.6 261.2,381.3 261.3,403.6 261.3,416.5 261.4,406.4 261.4,408.3 261.5,390.9 261.6,382.7 261.6,344.1 261.7,419.1 261.7,427.1 261.8,417.8 261.9,414.5 261.9,410.1 262,359.1 262,415.3 262.1,398.7 262.1,403.5 262.2,402.4 262.3,383 262.3,391.5 262.4,381.3 262.4,365.1 262.5,356.8 262.6,408.4 262.6,415.8 262.7,429 262.7,429.7 262.8,422 262.9,379.1 262.9,399.8 263,405.6 263,407 263.1,378.9 263.1,398.4 263.2,392.3 263.3,381.8 263.3,380.1 263.4,421.8 263.4,432.6 263.5,411.8 263.6,433.5 263.6,425.6 263.7,437.5 263.7,419.8 263.8,414.5 263.9,432.5 263.9,425.5 264,432.1 264,429.4 264.1,400.6 264.1,397.4 264.2,394.4 264.3,370.5 264.3,382.7 264.4,367 264.4,375.2 264.5,382.2 264.6,397.4 264.6,413.1 264.7,424.5 264.7,429.5 264.8,411.9 264.9,401.9 264.9,415.5 265,390.2 265,405.9 265.1,410.8 265.1,427.7 265.2,429.8 265.3,406.3 265.3,397.4 265.4,409.5 265.4,385.4 265.5,393.3 265.6,395.4 265.6,379 265.7,379.9 265.7,394.6 265.8,414.3 265.9,387.4 265.9,429.2 266,427.4 266,440.5 266.1,434 266.1,408.9 266.2,410.8 266.3,413.3 266.3,408.9 266.4,370 266.4,355 266.5,369.4 266.6,393.6 266.6,402.5 266.7,395.2 266.7,400.7 266.8,401.8 266.9,417 266.9,429.6 267,433.2 267,416.7 267.1,423.2 267.1,368.3 267.2,369.2 267.3,367.7 267.3,359.5 267.4,394.2 267.4,414 267.5,410.4 267.6,394.1 267.6,384 267.7,355.1 267.7,341.3 267.8,340.4 267.9,337.5 267.9,354.8 268,351.9 268,373.6 268.1,388 268.1,370.3 268.2,407.4 268.3,374 268.3,340.2 268.4,370.1 268.4,361.5 268.5,368.1 268.6,393.7 268.6,383.4 268.7,373.5 268.7,356.9 268.8,374.7 268.9,375.5 268.9,390.2 269,367.4 269,375.7 269.1,360.7 269.1,383 269.2,380.2 269.3,397.6 269.3,404.6 269.4,374.5 269.4,380.8 269.5,382.5 269.6,367 269.6,388.5 269.7,344.3 269.7,375.5 269.8,385.1 269.9,335.9 269.9,389.6 270,348.6 270,352.8 270.1,352.4 270.1,384.9 270.2,379.1 270.3,402.7 270.3,374.1 270.4,380.9 270.4,392.6 270.5,396.3 270.6,392.4 270.6,367.5 270.7,364.5 270.7,385.9 270.8,399.6 270.9,410 270.9,383.6 271,372.3 271,396.7 271.1,418.1 271.1,405 271.2,405.6 271.3,386 271.3,386 271.4,376.3 271.4,361.1 271.5,346 271.6,365.1 271.6,356.1 271.7,378 271.7,401.8 271.8,389.5 271.9,361.5 271.9,337.8 272,357.4 272,400.6 272.1,387 272.1,388.7 272.2,373 272.3,353 272.3,373.4 272.4,390 272.4,393.3 272.5,400.5 272.6,410 272.6,394.4 272.7,401.9 272.7,398.2 272.8,396.8 272.9,400.9 272.9,380.3 273,388.4 273,385.8 273.1,365.9 273.1,373.5 273.2,403 273.3,401.7 273.3,400.8 273.4,378.9 273.4,427.7 273.5,350.7 273.6,363.9 273.6,334.7 273.7,367.2 273.7,363.7 273.8,357.5 273.8,365.4 273.9,372.8 274,369.4 274,335.9 274.1,337.7 274.1,365.8 274.2,362.7 274.3,345.4 274.3,313.6 274.4,319.5 274.4,338.4 274.5,320.1 274.6,321.7 274.6,341.3 274.7,370.4 274.7,371 274.8,352.4 274.8,384.9 274.9,411.3 275,388.9 275,412.4 275.1,421.4 275.1,409.1 275.2,401.9 275.3,392.1 275.3,383.9 275.4,371.6 275.4,377.2 275.5,394.5 275.6,435.1 275.6,395 275.7,374.8 275.7,365.7 275.8,373.9 275.8,395.2 275.9,382.5 276,385.6 276,410.2 276.1,383.1 276.1,410.3 276.2,409.4 276.3,369.3 276.3,393.3 276.4,389.4 276.4,370.6 276.5,379.8 276.6,409.6 276.6,411.1 276.7,404.9 276.7,423.5 276.8,435 276.8,384 276.9,374.2 277,376.7 277,376.1 277.1,389.4 277.1,415.2 277.2,395.2 277.3,393.5 277.3,363.2 277.4,396.7 277.4,392.1 277.5,349.2 277.6,392.9 277.6,412.5 277.7,400.9 277.7,365.5 277.8,398.3 277.8,394.8 277.9,396.9 278,404.5 278,403.8 278.1,376.5 278.1,379.8 278.2,407.4 278.3,411.1 278.3,401.5 278.4,464.6 278.4,419.6 278.5,414.8 278.6,436.4 278.6,388.3 278.7,416.2 278.7,404.7 278.8,401.4 278.8,406.7 278.9,376.7 279,379.9 279,398.4 279.1,371.2 279.1,366.2 279.2,394.5 279.3,417.4 279.3,389.6 279.4,390.6 279.4,414.2 279.5,393.2 279.6,415 279.6,415 279.7,417 279.7,435.2 279.8,405.1 279.8,319.5 279.9,331 280,343 280,364.7 280.1,372.7 280.1,370 280.2,360.6 280.3,379 280.3,378.2 280.4,382.7 280.4,369.1 280.5,351.6 280.6,336.2 280.6,363.1 280.7,378.5 280.7,362.2 280.8,372.8 280.8,377.8 280.9,366 281,360.2 281,333.5 281.1,377 281.1,349.6 281.2,369.1 281.3,354.7 281.3,389.1 281.4,384.6 281.4,391.8 281.5,343.5 281.6,375.8 281.6,347.2 281.7,374.5 281.7,395.5 281.8,378.9 281.8,350.9 281.9,359.5 282,349 282,351.2 282.1,359.3 282.1,328.8 282.2,344.7 282.3,332.3 282.3,373.4 282.4,374.8 282.4,349.5 282.5,366.8 282.6,409.8 282.6,377.7 282.7,359.5 282.7,368.1 282.8,364 282.8,371.6 282.9,359.6 283,334 283,338.2 283.1,350.2 283.1,366.1 283.2,367.7 283.3,376.1 283.3,346.6 283.4,376.3 283.4,382.3 283.5,364.8 283.6,353.7 283.6,348.6 283.7,361.8 283.7,354.3 283.8,387.6 283.8,407.2 283.9,413.5 284,383.2 284,336.9 284.1,354 284.1,366.7 284.2,367.5 284.3,311.2 284.3,320.6 284.4,329 284.4,351.6 284.5,336.2 284.6,302.5 284.6,314.6 284.7,349.3 284.7,309.7 284.8,324.2 284.8,277.2 284.9,335.7 285,342.4 285,334.5 285.1,383.5 285.1,364.7 285.2,338 285.3,342.2 285.3,328.9 285.4,328.7 285.4,357.8 285.5,331.1 285.5,356.9 285.6,359.8 285.7,373.2 285.7,344.2 285.8,357.4 285.8,365.3 285.9,410.8 286,393.4 286,348.5 286.1,401.5 286.1,371.3 286.2,363 286.3,401.2 286.3,391.4 286.4,349.3 286.4,349.3 286.5,339.2 286.5,310.6 286.6,336 286.7,316.1 286.7,364.8 286.8,381.7 286.8,329 286.9,296.9 287,290.2 287,358.4 287.1,361.4 287.1,380.8 287.2,314.7 287.3,367.2 287.3,394 287.4,392.6 287.4,367.5 287.5,409.5 287.5,373.5 287.6,355.4 287.7,351.5 287.7,400.1 287.8,411.8 287.8,341.7 287.9,341.9 288,286.8 288,262.9 288.1,259.7 288.1,292.3 288.2,262.4 288.3,310 288.3,248.6 288.4,267 288.4,277.2 288.5,315 288.5,341.9 288.6,347.6 288.7,358.8 288.7,375.5 288.8,391 288.8,363.4 288.9,314.1 289,255.1 289,260.2 289.1,293.1 289.1,287.5 289.2,245.1 289.3,275.1 289.3,261.7 289.4,275.3 289.4,291.9 289.5,325 289.5,301.4 289.6,338.8 289.7,366.3 289.7,340.2 289.8,302.9 289.8,281.6 289.9,271.7 290,306 290,320.2 290.1,286.5 290.1,254.3 290.2,362.5 290.3,311.2 290.3,312.6 290.4,322.8 290.4,351 290.5,364.4 290.5,389.7 290.6,360.4 290.7,380.8 290.7,369 290.8,401.8 290.8,339.5 290.9,316.7 291,362.3 291,338.2 291.1,350.8 291.1,373.2 291.2,357.5 291.3,323.4 291.3,279.8 291.4,295.3 291.4,274.2 291.5,278.3 291.5,280.9 291.6,272.2 291.7,343.9 291.7,354.3 291.8,298.2 291.8,357.5 291.9,376.1 292,297.1 292,346.5 292.1,337.5 292.1,411.3 292.2,339.3 292.3,304.3 292.3,284.7 292.4,328 292.4,266.5 292.5,321.5 292.5,340.6 292.6,341.3 292.7,392.9 292.7,368.3 292.8,344 292.8,415.1 292.9,398.7 293,403 293,398.9 293.1,374.3 293.1,347.3 293.2,367.3 293.3,350.8 293.3,397.3 293.4,383.9 293.4,326.2 293.5,352.7 293.5,354.2 293.6,343.9 293.7,305.2 293.7,299 293.8,316.5 293.8,359.4 293.9,336.8 294,443 294,381 294.1,388.4 294.1,338.5 294.2,336 294.3,277.8 294.3,322.8 294.4,402.2 294.4,446.1 294.5,372.5 294.5,357.7 294.6,296.9 294.7,344.8 294.7,309.7 294.8,279.6 294.8,459.6 294.9,363.7 295,342.2 295,363.4 295.1,357.6 295.1,377.8 295.2,370.1 295.3,313.4 295.3,446.3 295.4,438.7 295.4,330.2 295.5,276.1 295.5,346.7 295.6,353.4 295.7,294.9 295.7,331.1 295.8,298.4 295.8,319.8 295.9,369.8 296,342.6 296,357.7 296.1,270.1 296.1,453.9 296.2,301.2 296.3,286.3 296.3,274.5 296.4,245.2 296.4,252.2 296.5,269.4 296.5,311.8 296.6,307.3 296.7,270.9 296.7,268.5 296.8,270.4 296.8,261.4 296.9,302.2 297,319.3 297,240.3 297.1,244.4 297.1,252.4 297.2,350 297.3,414.6 297.3,338.5 297.4,294.2 297.4,243.7 297.5,256.7 297.5,305.2 297.6,385.5 297.7,389.9 297.7,469.7 297.8,387.3 297.8,330 297.9,252.8 298,360.8 298,405.7 298.1,336.3 298.1,308.9 298.2,402.8 298.2,398.1 298.3,358.1 298.4,357.1 298.4,321.8 298.5,316.8 298.5,341.3 298.6,313.4 298.7,318.1 298.7,265.7 298.8,351.4 298.8,348.8 298.9,367.2 299,359.4 299,326.8 299.1,297.4 299.1,400.5 299.2,320.5 299.2,299.6 299.3,288.1 299.4,300.9 299.4,271.8 299.5,277.4 299.5,373.2 299.6,383.4 299.7,372.7 299.7,371.1 299.8,373.9 299.8,332.7 299.9,378.5 300,391 300,408.5 300.1,380.3 300.1,345 300.2,377.6 300.2,345.8 300.3,364 300.4,298.1 300.4,402.2 300.5,377.4 300.5,317.4 300.6,340.7 300.7,383.5 300.7,399.8 300.8,353.8 300.8,368.5 300.9,314.2 301,320.6 301,348.2 301.1,359.9 301.1,330.1 301.2,289.9 301.2,338.9 301.3,383.6 301.4,410 301.4,358.2 301.5,271.2 301.5,315.4 301.6,292.3 301.7,322.5 301.7,429.6 301.8,363.5 301.8,459.3 301.9,378.8 302,392.9 302,351.4 302.1,349.4 302.1,339.8 302.2,307.2 302.2,300.7 302.3,237.7 302.4,427.5 302.4,300.1 302.5,305.1 302.5,331.8 302.6,341.6 302.7,246.5 302.7,308.4 302.8,251.2 302.8,263.8 302.9,460.1 303,286 303,295.7 303.1,253.7 303.1,294.9 303.2,311.8 303.2,244.1 303.3,333.8 303.4,341.8 303.4,280.9 303.5,341.7 303.5,363.5 303.6,345.7 303.7,337.3 303.7,340 303.8,340 303.8,258.2 303.9,383.2 304,382.2 304,408.1 304.1,366.7 304.1,370.1 304.2,334.2 304.2,332.3 304.3,237.3 304.4,449.9 304.4,349.5 304.5,306.8 304.5,332.5 304.6,326.4 304.7,390.9 304.7,339.2 304.8,342.2 304.8,316.4 304.9,360.6 305,372.4 305,392.1 305.1,303.7 305.1,386.6 305.2,349.8 305.2,334.7 305.3,285.8 305.4,295.8 305.4,353.5 305.5,327.6 305.5,400.1 305.6,334.5 305.7,340.9 305.7,438 305.8,443.8 305.8,340 305.9,405.5 306,313.5 306,352.2 306.1,289.2 306.1,303.8 306.2,245.2 306.2,331 306.3,301.9 306.4,320.7 306.4,354 306.5,317.5 306.5,336.9 306.6,367.8 306.7,366.6 306.7,387.3 306.8,378.6 306.8,366.6 306.9,316.7 307,331.6 307,366.4 307.1,329.2 307.1,349.6 307.2,384.9 307.2,415 307.3,320.8 307.4,335.2 307.4,278.8 307.5,343.1 307.5,384.6 307.6,304.9 307.7,331.6 307.7,345.2 307.8,354.8 307.8,390.3 307.9,334 308,384.6 308,339.7 308.1,418.1 308.1,266.7 308.2,269.4 308.2,255.7 308.3,392.5 308.4,460.6 308.4,456.4 308.5,388.8 308.5,402.8 308.6,345.4 308.7,422.6 308.7,361 308.8,376.7 308.8,387.6 308.9,390 309,381 309,410.2 309.1,418.1 309.1,475.4 309.2,422.3 309.2,366 309.3,374.9 309.4,305.1 309.4,349.5 309.5,344.2 309.5,296.3 309.6,304 309.7,350 309.7,331.8 309.8,351.1 309.8,302.6 309.9,287.4 309.9,413.6 310,306 310.1,251.6 310.1,243 310.2,248.7 310.2,293.1 310.3,335.5 310.4,367.5 310.4,317.5 310.5,369.4 310.5,343.1 310.6,418.9 310.7,367.5 310.7,344.4 310.8,382.3 310.8,371.7 310.9,339.8 310.9,378.6 311,414.7 311.1,400.7 311.1,368 311.2,371.8 311.2,396.1 311.3,345.4 311.4,386.7 311.4,424.3 311.5,384.6 311.5,277.4 311.6,320.5 311.7,329.3 311.7,372.7 311.8,381.8 311.8,408.6 311.9,425.8 311.9,380.6 312,393.6 312.1,329.3 312.1,390.5 312.2,326.9 312.2,335.3 312.3,371.2 312.4,354.4 312.4,354.2 312.5,327.9 312.5,334.6 312.6,245.2 312.7,244.5 312.7,309.4 312.8,307.1 312.8,382.2 312.9,264.9 312.9,254.8 313,275 313.1,291.5 313.1,246.8 313.2,361.3 313.2,380 313.3,422.7 313.4,315.3 313.4,378.6 313.5,386.2 313.5,275.4 313.6,303.1 313.7,291.9 313.7,297.7 313.8,270.9 313.8,305 313.9,290.5 313.9,302.1 314,241.3 314.1,240.6 314.1,275.3 314.2,225.1 314.2,242.7 314.3,256.4 314.4,329.9 314.4,442.5 314.5,361.1 314.5,351 314.6,343.7 314.7,386.4 314.7,298.1 314.8,315.9 314.8,304.5 314.9,260.2 314.9,269.5 315,258.8 315.1,299.7 315.1,352.5 315.2,365.4 315.2,348.4 315.3,360.4 315.4,261.7 315.4,309.3 315.5,283.1 315.5,265.9 315.6,281.6 315.7,343.9 315.7,314.2 315.8,277.7 315.8,288.5 315.9,301.1 315.9,402 316,416.8 316.1,386.8 316.1,352.6 316.2,307.7 316.2,326 316.3,316.2 316.4,362.2 316.4,318 316.5,287.1 316.5,304.7 316.6,268 316.7,301.1 316.7,328.4 316.8,335.6 316.8,236.8 316.9,339.1 316.9,318.2 317,330 317.1,315.3 317.1,380.1 317.2,314.7 317.2,277.8 317.3,299 317.4,319.2 317.4,306.9 317.5,254.7 317.5,345.8 317.6,253.7 317.7,283.5 317.7,242.8 317.8,304.3 317.8,224.8 317.9,271.7 317.9,255.4 318,244.5 318.1,295.8 318.1,237.8 318.2,228.4 318.2,251 318.3,253.7 318.4,283.6 318.4,262.7 318.5,368.1 318.5,450.5 318.6,356.4 318.7,304.2 318.7,344.6 318.8,299.1 318.8,308.2 318.9,302 318.9,254.2 319,347.1 319.1,311 319.1,281.8 319.2,416.9 319.2,291.6 319.3,349 319.4,323.1 319.4,285.7 319.5,257 319.5,308 319.6,269.9 319.7,270.4 319.7,254.5 319.8,277.4 319.8,261.1 319.9,401.9 319.9,247.4 320,244.4 320.1,251.8 320.1,258.2 320.2,345.8 320.2,311.8 320.3,259 320.4,248.3 320.4,241.1 320.5,306 320.5,296.7 320.6,364.1 320.7,268.6 320.7,266.6 320.8,304.6 320.8,326.6 320.9,375.8 320.9,384.7 321,377.2 321.1,403.7 321.1,389.7 321.2,335.3 321.2,341.7 321.3,303.6 321.4,318.2 321.4,315.8 321.5,371.2 321.5,313.7 321.6,364.8 321.6,363 321.7,399.9 321.8,347.5 321.8,380.6 321.9,332.3 321.9,384.3 322,259.7 322.1,378.5 322.1,388.3 322.2,305.6 322.2,282.8 322.3,277.3 322.4,241 322.4,247.6 322.5,261.7 322.5,335.8 322.6,329 322.6,286.5 322.7,378.3 322.8,343 322.8,409.6 322.9,317.2 322.9,308 323,259 323.1,270.3 323.1,444.1 323.2,244.1 323.2,423.2 323.3,288.8 323.4,396.8 323.4,260.3 323.5,281.1 323.5,267 323.6,278.8 323.6,378.7 323.7,356.2 323.8,367.9 323.8,333 323.9,306.4 323.9,371.6 324,380 324.1,344.1 324.1,376.9 324.2,351.6 324.2,372.6 324.3,379.5 324.4,314.2 324.4,319.8 324.5,341.9 324.5,264.9 324.6,299.3 324.6,307.9 324.7,310.9 324.8,311.9 324.8,300.9 324.9,301.3 324.9,398.8 325,432.2 325.1,297 325.1,318 325.2,300.7 325.2,239.8 325.3,307.3 325.4,236.3 325.4,291.2 325.5,261.9 325.5,242.7 325.6,252.5 325.6,323.8 325.7,281.9 325.8,350.6 325.8,366.3 325.9,353 325.9,390.2 326,315.8 326.1,336.9 326.1,381.6 326.2,347.4 326.2,337.7 326.3,375.8 326.4,376.5 326.4,318 326.5,285.5 326.5,364.5 326.6,307.1 326.6,272.1 326.7,423.4 326.8,293.6 326.8,335.5 326.9,423.1 326.9,353.9 327,350.1 327.1,362.1 327.1,356.1 327.2,361.1 327.2,341.9 327.3,325 327.4,332.4 327.4,348.9 327.5,268.6 327.5,248.4 327.6,254.8 327.6,316 327.7,289.3 327.8,306.5 327.8,284.8 327.9,287.1 327.9,320.1 328,240.1 328.1,312.8 328.1,267.7 328.2,237.6 328.2,287.8 328.3,363.8 328.4,384.4 328.4,391.8 328.5,431.3 328.5,380.4 328.6,327.7 328.6,278.6 328.7,256.5 328.8,280.8 328.8,322.8 328.9,256.7 328.9,400.4 329,382.4 329.1,390.2 329.1,349.4 329.2,357.1 329.2,357.8 329.3,287.8 329.4,334.8 329.4,388.6 329.5,354.1 329.5,317 329.6,326.5 329.6,327.9 329.7,353 329.8,398.4 329.8,402.6 329.9,417.8 329.9,333.7 330,343.9 330.1,282.8 330.1,309 330.2,356.2 330.2,340.3 330.3,330.4 330.4,279.5 330.4,383.3 330.5,381.6 330.5,347.9 330.6,373.8 330.6,355.1 330.7,360.2 330.8,296.2 330.8,265 330.9,375.4 330.9,421.3 331,419.9 331.1,391.4 331.1,377.9 331.2,383.6 331.2,344.7 331.3,311.7 331.4,321.2 331.4,341.9 331.5,342 331.5,374.5 331.6,332.9 331.6,308.1 331.7,358.1 331.8,301.2 331.8,322.3 331.9,303.6 331.9,442.9 332,340.4 332.1,319.5 332.1,367.2 332.2,370 332.2,404.8 332.3,365.6 332.4,367.3 332.4,371.4 332.5,381 332.5,344.3 332.6,335.5 332.6,347.6 332.7,363.6 332.8,290.2 332.8,255.8 332.9,332.2 332.9,291 333,291.2 333.1,299.7 333.1,300.3 333.2,368.2 333.2,264.1 333.3,321.7 333.3,264.8 333.4,294.5 333.5,307 333.5,345.6 333.6,322.8 333.6,331.1 333.7,375.7 333.8,380.3 333.8,389.2 333.9,393.1 333.9,385.4 334,344.2 334.1,359.4 334.1,414.3 334.2,331 334.2,358.1 334.3,297.3 334.3,306.5 334.4,300.6 334.5,349.7 334.5,343.6 334.6,357.7 334.6,353.8 334.7,331.1 334.8,350.1 334.8,314.8 334.9,379.5 334.9,405.3 335,362.6 335.1,333.2 335.1,294.1 335.2,249 335.2,266.9 335.3,265.5 335.3,283.8 335.4,414.9 335.5,316.6 335.5,318.9 335.6,389.6 335.6,347.2 335.7,309 335.8,297.7 335.8,462.5 335.9,309.4 335.9,331.8 336,312.9 336.1,354 336.1,380.6 336.2,334.2 336.2,344.3 336.3,453.9 336.3,309 336.4,334.8 336.5,375.5 336.5,306.9 336.6,318.8 336.6,359.7 336.7,409.9 336.8,429.6 336.8,406.3 336.9,323.5 336.9,364.1 337,387.3 337.1,324.9 337.1,467.2 337.2,466.3 337.2,377.3 337.3,445.7 337.3,454.5 337.4,342.4 337.5,409.5 337.5,297.8 337.6,316 337.6,253.4 337.7,274.8 337.8,329.1 337.8,280.4 337.9,258.1 337.9,310 338,308.4 338.1,289 338.1,356.1 338.2,371 338.2,294.2 338.3,370.4 338.3,242.6 338.4,344.7 338.5,395.4 338.5,334.3 338.6,340.3 338.6,341.9 338.7,378.1 338.8,326.6 338.8,404.9 338.9,327.9 338.9,365.2 339,417.3 339.1,397.2 339.1,458 339.2,442.9 339.2,370.4 339.3,328.9 339.3,350.3 339.4,453 339.5,384.9 339.5,330.7 339.6,332.6 339.6,283.9 339.7,265.3 339.8,364.3 339.8,364.8 339.9,375.8 339.9,299.9 340,274.6 340.1,298.2 340.1,294.4 340.2,280 340.2,449.3 340.3,346.3 340.3,350.3 340.4,461.1 340.5,371.1 340.5,352.9 340.6,401.3 340.6,424.7 340.7,364.7 340.8,300.7 340.8,249 340.9,356.1 340.9,338.6 341,374.6 341.1,384.7 341.1,378.5 341.2,350.3 341.2,326.7 341.3,429.5 341.3,419.9 341.4,347.3 341.5,341.3 341.5,406.9 341.6,421.2 341.6,422.6 341.7,350.5 341.8,276.7 341.8,347.6 341.9,325.8 341.9,345.1 342,322.2 342.1,341 342.1,388 342.2,397.4 342.2,403.4 342.3,323.2 342.3,363.1 342.4,335.2 342.5,374 342.5,390.4 342.6,365.2 342.6,412.1 342.7,292.5 342.8,264.7 342.8,343.4 342.9,326.8 342.9,278.7 343,354.8 343.1,369.6 343.1,306.3 343.2,356.7 343.2,331.4 343.3,343.4 343.3,341 343.4,385.6 343.5,375.9 343.5,383.9 343.6,306.5 343.6,302.3 343.7,319.8 343.8,335.2 343.8,318.3 343.9,393.1 343.9,415.8 344,426.4 344.1,428.4 344.1,460.5 344.2,400.9 344.2,401.3 344.3,457.7 344.3,351.7 344.4,368.5 344.5,349.4 344.5,338.3 344.6,357.7 344.6,338.4 344.7,302.4 344.8,341.8 344.8,303.1 344.9,333 344.9,313.1 345,333.6 345,436.5 345.1,348.2 345.2,393 345.2,437 345.3,407.7 345.3,397.3 345.4,422.4 345.5,321.6 345.5,417.5 345.6,363 345.6,343.1 345.7,330.2 345.8,355.8 345.8,365.7 345.9,429.7 345.9,393.3 346,311.9 346,289.4 346.1,279.7 346.2,332.1 346.2,381.3 346.3,340.3 346.3,406.6 346.4,352.3 346.5,365.9 346.5,328.7 346.6,432.3 346.6,350.4 346.7,357.3 346.8,417.5 346.8,435.8 346.9,383.8 346.9,389.6 347,407.9 347,378 347.1,324.7 347.2,368.3 347.2,376 347.3,378.2 347.3,283.8 347.4,278 347.5,301.3 347.5,375 347.6,342.3 347.6,329.5 347.7,348.9 347.8,379.9 347.8,388 347.9,434.6 347.9,418.8 348,411.8 348,423.2 348.1,409.9 348.2,433.3 348.2,373.6 348.3,413.8 348.3,410.6 348.4,460 348.5,346.5 348.5,370.6 348.6,412.7 348.6,395.8 348.7,368.1 348.8,345.9 348.8,323.4 348.9,312.4 348.9,383 349,372.6 349,432 349.1,455.8 349.2,358.5 349.2,331.3 349.3,345 349.3,354.6 349.4,378 349.5,464.1 349.5,432.3 349.6,322.9 349.6,298.4 349.7,332.5 349.8,448.2 349.8,332 349.9,364 349.9,363.9 350,352 350,372.8 350.1,352.9 350.2,314.4 350.2,304.5 350.3,317.3 350.3,339.9 350.4,322.6 350.5,355.2 350.5,378.1 350.6,325.9 350.6,351 350.7,400.1 350.8,404.2 350.8,328.7 350.9,299.7 350.9,325.6 351,298 351,326 351.1,373.2 351.2,372.9 351.2,357.9 351.3,394.9 351.3,386.2 351.4,366.3 351.5,377.4 351.5,367 351.6,364.6 351.6,389.3 351.7,366 351.8,344.1 351.8,416.8 351.9,416.2 351.9,366.6 352,349.1 352,415.5 352.1,385.6 352.2,330 352.2,314 352.3,308 352.3,332.7 352.4,341.5 352.5,386 352.5,375.4 352.6,295.4 352.6,321.3 352.7,365.5 352.8,345.4 352.8,415.9 352.9,318.4 352.9,449.6 353,338.6 353,357 353.1,385.7 353.2,369.1 353.2,361.5 353.3,409.6 353.3,354.1 353.4,365.5 353.5,396.5 353.5,347.9 353.6,325 353.6,354.8 353.7,375.3 353.8,329.6 353.8,437.4 353.9,344.8 353.9,302.1 354,362.5 354,408.1 354.1,431.6 354.2,408.6 354.2,386 354.3,342.1 354.3,361.2 354.4,305.4 354.5,319.1 354.5,396.7 354.6,441.1 354.6,350.1 354.7,319.4 354.8,357.2 354.8,361.1 354.9,292.4 354.9,315 355,361.1 355,406.7 355.1,401.4 355.2,374.3 355.2,402.1 355.3,345.9 355.3,374.7 355.4,426 355.5,381.8 355.5,373.5 355.6,375.6 355.6,332.1 355.7,360.8 355.8,339.2 355.8,362.6 355.9,311.4 355.9,329.1 356,338.9 356,327.2 356.1,340.4 356.2,331.6 356.2,413.5 356.3,329.9 356.3,336.6 356.4,359.3 356.5,434.3 356.5,327.7 356.6,370 356.6,371 356.7,415.4 356.7,385 356.8,343 356.9,266.3 356.9,288.7 357,277.6 357,257.1 357.1,268.8 357.2,359.9 357.2,369.2 357.3,348.4 357.3,337.3 357.4,336.3 357.5,368.9 357.5,420.1 357.6,377.9 357.6,328.5 357.7,352.2 357.7,334 357.8,357.8 357.9,360.3 357.9,375.5 358,342.3 358,375.8 358.1,364.4 358.2,336 358.2,346.9 358.3,388.5 358.3,367.7 358.4,372 358.5,405.6 358.5,395.5 358.6,393 358.6,367.9 358.7,382.6 358.7,376.6 358.8,428.8 358.9,415.5 358.9,375.8 359,377 359,403 359.1,392.1 359.2,366.2 359.2,391.6 359.3,403 359.3,449.7 359.4,341.5 359.5,317.5 359.5,346 359.6,384.6 359.6,408 359.7,408.4 359.7,423.2 359.8,401.7 359.9,371.7 359.9,403 360,368.7 360,398 360.1,411.3 360.2,433.3 360.2,403.5 360.3,432.9 360.3,398.8 360.4,456.5 360.5,444 360.5,417.9 360.6,465.3 360.6,457.6 360.7,388.1 360.7,367 360.8,383.4 360.9,367.5 360.9,349.8 361,312.4 361,365 361.1,330.1 361.2,376.7 361.2,377.9 361.3,390.2 361.3,392.8 361.4,432.6 361.5,420.5 361.5,433 361.6,418.6 361.6,400.3 361.7,394 361.7,394 361.8,362.3 361.9,366.3 361.9,363.4 362,346.4 362,366 362.1,374.4 362.2,368.1 362.2,383.8 362.3,362.8 362.3,388.4 362.4,395.5 362.5,398.6 362.5,404.2 362.6,401.8 362.6,409.7 362.7,467 362.7,408.6 362.8,413.7 362.9,395.3 362.9,418.1 363,401.6 363,426.1 363.1,391.7 363.2,399.9 363.2,410.6 363.3,459.1 363.3,474.6 363.4,458.7 363.5,450 363.5,444.9 363.6,440.4 363.6,413.9 363.7,420.7 363.7,425 363.8,433.2 363.9,443.4 363.9,426.9 364,429.3 364,430 364.1,420.1 364.2,415.9 364.2,400.6 364.3,390.8 364.3,418.9 364.4,427.2 364.5,399.9 364.5,407 364.6,391.5 364.6,411.1 364.7,453.6 364.7,473.4 364.8,457.7 364.9,441.6 364.9,374.6 365,366.2 365,361.5 365.1,353.5 365.2,401.9 365.2,395.2 365.3,394.4 365.3,347.7 365.4,378 365.5,413.2 365.5,399.5 365.6,396.8 365.6,388.7 365.7,428.9 365.7,378.1 365.8,394.6 365.9,400 365.9,340.1 366,371.5 366,364.5 366.1,394.7 366.2,429 366.2,464.7 366.3,382.5 366.3,352.3 366.4,340.1 366.5,456 366.5,379.9 366.6,336.7 366.6,352.7 366.7,315.9 366.7,326 366.8,327.4 366.9,334.7 366.9,342.6 367,362 367,318.1 367.1,362.2 367.2,402.2 367.2,387 367.3,398.5 367.3,370.7 367.4,378.9 367.5,355.3 367.5,364.2 367.6,388.2 367.6,393 367.7,373.7 367.7,389.5 367.8,403.6 367.9,398.1 367.9,383.9 368,355.4 368,355.2 368.1,345.4 368.2,362.2 368.2,327.1 368.3,304.7 368.3,343.3 368.4,350.4 368.5,362.7 368.5,359.8 368.6,372.1 368.6,463.8 368.7,412.2 368.7,408.3 368.8,393.8 368.9,361.4 368.9,352.8 369,370.3 369,386.4 369.1,415.8 369.2,382.3 369.2,376 369.3,360.1 369.3,346.9 369.4,343.8 369.4,357.1 369.5,369.6 369.6,393.9 369.6,399.9 369.7,378.2 369.7,321.2 369.8,350.6 369.9,352.9 369.9,289.4 370,315.3 370,345.4 370.1,354.9 370.2,367 370.2,415.4 370.3,376.9 370.3,418 370.4,413 370.4,406.8 370.5,381.5 370.6,382.9 370.6,390.3 370.7,404.5 370.7,385.7 370.8,389 370.9,400.7 370.9,423.5 371,425.4 371,401.1 371.1,430 371.2,404.3 371.2,390 371.3,422.7 371.3,379.9 371.4,402.8 371.4,394.2 371.5,396.5 371.6,455.2 371.6,392.5 371.7,379.4 371.7,374.2 371.8,395.5 371.9,377.9 371.9,384.1 372,339.3 372,336.3 372.1,316.2 372.2,372.4 372.2,397.1 372.3,400.3 372.3,407.4 372.4,356.2 372.4,357 372.5,393.2 372.6,395.2 372.6,345.2 372.7,367.9 372.7,359.9 372.8,411.1 372.9,414.3 372.9,407 373,405.4 373,398.9 373.1,387.5 373.2,363.4 373.2,413.7 373.3,403.8 373.3,384.1 373.4,383 373.4,363.1 373.5,378.9 373.6,394.9 373.6,412.9 373.7,387.7 373.7,418.5 373.8,419.4 373.9,412.3 373.9,395.1 374,403.4 374,421.4 374.1,402.4 374.2,425.1 374.2,430.3 374.3,458.1 374.3,431.8 374.4,416.3 374.4,444.8 374.5,431.1 374.6,406.4 374.6,416.6 374.7,443.9 374.7,426.9 374.8,401.1 374.9,438.8 374.9,402.2 375,399.8 375,376.3 375.1,405.8 375.2,378.9 375.2,376.4 375.3,363.9 375.3,372.4 375.4,356.1 375.4,372.8 375.5,388.9 375.6,412.5 375.6,439.3 375.7,416.4 375.7,412.7 375.8,405 375.9,404.7 375.9,389.7 376,387.8 376,401.9 376.1,378.6 376.2,332.8 376.2,375.7 376.3,391.1 376.3,377.1 376.4,398.7 376.4,370.8 376.5,393.8 376.6,419.6 376.6,429.1 376.7,388.5 376.7,435.3 376.8,413.8 376.9,453.1 376.9,410.4 377,392.6 377,376 377.1,332.4 377.2,356.2 377.2,342.6 377.3,347.1 377.3,339.5 377.4,375.1 377.4,354.5 377.5,374.1 377.6,345.8 377.6,340.7 377.7,356.9 377.7,354.9 377.8,354.9 377.9,361.6 377.9,312.1 378,359.1 378,398.8 378.1,421.6 378.2,411.9 378.2,401.8 378.3,379.9 378.3,360.2 378.4,364.2 378.4,368.6 378.5,394.5 378.6,368.4 378.6,344.7 378.7,362.5 378.7,355.2 378.8,379.7 378.9,381.4 378.9,379.7 379,362.4 379,401.6 379.1,392.7 379.2,369.6 379.2,367.6 379.3,359.6 379.3,422.4 379.4,425.4 379.4,417.9 379.5,420.8 379.6,456.5 379.6,405.3 379.7,392.1 379.7,431.1 379.8,422.8 379.9,406 379.9,374.8 380,361.7 380,391.6 380.1,401.4 380.2,386.4 380.2,358.7 380.3,375.7 380.3,390.3 380.4,369.2 380.4,366.7 380.5,334 380.6,335.8 380.6,323.1 380.7,391.6 380.7,449.8 380.8,437.8 380.9,427.9 380.9,394.3 381,429.5 381,367.2 381.1,387.1 381.1,351.8 381.2,333.6 381.3,393.6 381.3,411.5 381.4,409.9 381.4,368.5 386.8,293.1 381.6,446.3 381.6,368.1 381.7,359.4 381.7,460.7 381.8,369.1 381.9,370 381.9,426.9 382,443.1 382,392 382.1,416.5 382.1,352.2 382.2,375.8 385.8,279.5 382.3,381.8 382.4,419.3 382.4,409 382.5,379.2 382.6,401.2 382.6,368.3 382.7,311.3 382.7,292.4 382.8,327 382.9,362.5 382.9,437 386.5,296.8 384.4,305.2 383.1,328.4 383.1,325.1 383.2,319.2 383.3,340 383.3,252.5 383.4,348.9 383.4,256.5 383.5,264.8 383.6,461 383.6,305.3 383.7,276.4 383.7,260.3 383.8,300 383.9,302.5 386.2,285.1 384,326.2 384,327.1 384.1,253 384.1,289.4 382.4,307.3 384.3,373.3 384.3,414.2 384.4,419.4 384.4,415.7 384.5,359.8 383.4,268.9 384.6,364.8 384.7,419.4 384.7,300.2 385.6,274.3 384.9,331.1 384.9,276 385,307.7 385,464.6 385.1,321.1 385.1,310.1 385.2,338.4 385.3,281.4 385.3,267.3 385.4,291.6 385.4,270.8 385.5,301.8 385.6,334.4 385.6,340.1 385.7,324.9 385.7,381.6 385.8,375.8 385.9,347.1 385.9,380.6 386,354.1 386,385.1 386.1,361.3 386.1,355.7 386.2,338.5 386.3,363.4 383.6,297.2 386.4,468.4 386.4,297.4 386.5,363.2 386.6,383.1 386.6,421.2 386.7,342.9 386.7,317.9 386.8,298.3 384.2,281.6 386.9,313.7 387,349.7 387,304 387.1,321.1 387.1,406.1 387.2,383.2 387.3,395.5 387.3,291.4 387.4,356.2 387.4,360.5 387.5,362.7 387.6,383 387.6,391.7 387.7,374.4 387.7,350.8 387.8,362.7 387.9,364.8 387.9,357.3 388,384.4 388,377.2 388.1,364.2 388.1,324 388.2,311.6 388.3,310.3 388.3,296 388.4,342.6 388.4,309 388.5,337.5 388.6,347.4 388.6,362 388.7,336.7 388.7,363.3 388.8,460.2 388.9,356.4 388.9,371 389,351.5 389,379.4 389.1,331.8 389.1,363.5 389.2,375.2 389.3,329.9 389.3,386.5 389.4,346.4 389.4,348.5 389.5,349.2 389.6,346.5 389.6,379.2 389.7,320.1 389.7,319 389.8,315 389.9,308 389.9,299.2 390,314.2 390,361.3 390.1,400.2 390.1,425.6 390.2,413.7 390.3,363.1 390.3,402.1 390.4,396.9 390.4,365.8 390.5,375.3 390.6,378.9 390.6,405.1 390.7,384.4 390.7,394.3 390.8,403.8 390.9,400.9 390.9,430.6 391,345.5 391,388.3 391.1,366.7 391.1,399.8 391.2,441.2 391.3,432 391.3,406.2 391.4,394.1 391.4,375.1 391.5,424.5 391.6,369.2 391.6,348.4 391.7,340.7 391.7,398.1 391.8,376.5 391.9,389.9 391.9,397.4 392,388.6 392,426.6 392.1,378.1 392.1,351.2 392.2,341.3 392.3,320 392.3,388 392.4,392.5 392.4,396.5 392.5,421.9 392.6,385.2 392.6,319.9 392.7,371.5 392.7,362 392.8,368.8 392.8,371.2 392.9,374.1 393,362 393,386.6 393.1,396 393.1,353.2 393.2,365.1 393.3,371.9 393.3,418.2 393.4,391.4 393.4,371 393.5,366.6 393.6,330.1 393.6,399.1 393.7,365.8 393.7,411.7 393.8,424.2 393.8,457.2 393.9,400.4 394,391.7 394,394.8 394.1,383.1 394.1,436.7 394.2,426.7 394.3,396.9 394.3,401.9 394.4,389.1 394.4,426.2 394.5,396.3 394.6,392.2 394.6,373.6 394.7,320.8 394.7,334.1 394.8,363 394.8,349.3 394.9,388.6 395,326.5 395,340.8 395.1,349.2 395.1,339.7 395.2,388.3 395.3,379.5 395.3,380.8 395.4,309.5 395.4,288.8 395.5,265 395.6,305 395.6,325.9 395.7,311.6 395.7,355.1 395.8,388.3 395.8,334.9 395.9,335.2 396,335.8 396,400.2 396.1,401.4 396.1,403.4 396.2,411.6 396.3,386.8 396.3,408 396.4,428 396.4,350.6 396.5,346.4 396.6,386.9 396.6,321.7 396.7,326.9 396.7,335.9 396.8,427.1 396.8,363.9 396.9,363 397,332.7 397,301.2 397.1,365.6 397.1,316.9 397.2,316.2 397.3,335.6 397.3,413 397.4,343 397.4,345.3 397.5,338 397.6,383 397.6,360.2 397.7,347.2 397.7,313.1 397.8,360.4 397.8,424.1 397.9,418.4 401.2,322.8 398,393.9 402.1,273 398.1,371.8 398.2,331.5 398.3,294.7 398.3,320 398.4,383.4 398.4,375.2 398.5,375.9 398.6,372.7 398.6,372.7 398.7,369 398.7,432.1 398.8,387.4 398.8,361.7 398.9,351.3 399,358.9 399,332.3 399.1,395.6 399.1,427.9 402,285.4 399.3,372.8 399.3,370.2 399.4,334.8 399.4,350.2 399.5,381.7 399.6,388.1 399.6,365.1 399.7,395.7 399.7,380.6 399.8,384.6 399.8,372.2 399.9,342.3 400,324.9 400,335.4 400.1,336.6 400.1,319.1 400.2,439.9 400.3,352.7 400.3,391.2 400.4,337.4 400.4,341.9 399.7,314.8 401.5,275 400.6,353.6 400.7,346 400.7,403.1 400.8,329 400.8,333.1 400.9,330.9 401,351.2 401,379.2 401.1,417.8 401.1,388.8 401.2,377 401.3,377.3 401.3,346 401.4,340.9 401.4,379.7 401.5,383.9 401.6,339.1 401.6,389.5 401.5,321.1 401.7,347.4 401.8,273.2 401.8,294 401.9,368.9 402,351.2 402,351.7 402.1,367.6 402.1,362.7 402.2,359.7 402.3,457.8 402.3,396.4 402.4,390.5 402.4,377.8 402.5,349.6 402.6,354.4 402.6,423.9 402.7,356.5 402.7,368.3 400.3,294.2 402.8,381.8 402.9,378.9 402.8,291.2 403,339.6 403.1,380.8 403.1,345.2 403.2,409 403.3,383.5 403.3,384.5 403.4,347.2 403.4,347.4 403.5,287.8 403.6,251.3 403.6,304.1 403.7,310.3 403.7,361.9 403.8,393.8 403.8,386.8 403.9,355.9 404,344.7 404,362 404.1,336.3 404.1,385.2 404.2,407.2 404.3,397.6 404.3,440.4 404.4,379.3 404.4,443.7 404.5,391.6 404.5,375.5 404.6,413.7 404.7,403.6 404.7,440.8 404.8,421.2 404.8,401.9 404.9,351.2 405,363.1 405,334.9 405.1,353.9 405.1,408.5 405.2,435.4 405.3,377.8 405.3,395.4 405.4,365.8 405.4,425.8 405.5,404.6 405.5,377.6 405.6,358.2 405.7,386.3 405.7,378.1 405.8,379.2 405.8,365.8 405.9,380.2 406,439.9 406,428.7 406.1,372.4 406.1,400.9 406.2,401.4 406.3,374.9 406.3,386.8 406.4,416.6 406.4,406.8 406.5,405.5 406.5,422.8 406.6,414.6 406.7,442.4 406.7,452.6 406.8,465.7 406.8,441.5 406.9,422.6 407,427.2 407,387.5 407.1,376.8 407.1,383.9 407.2,362.4 407.3,342.2 407.3,348.4 407.4,381.9 407.4,369.4 407.5,354.7 407.5,363.6 407.6,440.1 407.7,383.4 407.7,383.4 407.8,434.4 407.8,385.6 407.9,392.1 408,353.9 408,372.9 408.1,404.1 408.1,387 408.2,393.3 408.3,380.2 408.3,401 408.4,414.3 408.4,427.6 408.5,435.9 408.5,416.8 408.6,466.2 408.7,426.6 408.7,398.2 408.8,469.2 408.8,423.3 408.9,435.4 409,433.8 409,420.8 409.1,400.6 409.1,384.2 409.2,408.3 409.3,392.6 409.3,412.5 409.4,437.9 409.4,449.1 409.5,480.6 409.5,449.7 409.6,480.1 409.7,444.3 409.7,364.3 409.8,402.4 409.8,457.6 409.9,426.1 410,444.7 410,429.1 410.1,418.7 410.1,406.2 410.2,347.7 410.3,360.6 410.3,369.5 410.4,383.8 410.4,409.4 410.5,422.4 410.5,442.7 410.6,437.7 410.7,404.4 410.7,384.3 410.8,381.3 410.8,332 410.9,359.8 411,359 411,390.2 411.1,363.2 411.1,381.8 411.2,387 411.3,428.7 411.3,400.6 411.4,356.2 411.4,452.4 411.5,388.9 411.5,369 411.6,398.4 411.7,443.3 411.7,459.9 411.8,399.3 411.8,406.8 411.9,436.3 412,410.8 412,396.8 412.1,405.3 412.1,435.6 412.2,402.8 412.3,369.8 412.3,362.2 412.4,378.2 412.4,377.7 412.5,364.3 412.5,380.9 412.6,375.6 412.7,388.5 412.7,401.8 412.8,452.6 412.8,466.3 412.9,468.1 413,439.8 413,360.1 413.1,400.6 413.1,413.7 413.2,444.2 413.3,439 413.3,431.9 413.4,404.6 413.4,441.3 413.5,415.2 413.5,406.6 413.6,415 413.7,444.2 413.7,457.5 413.8,443.2 413.8,467.6 413.9,416.5 414,432.9 414,417.5 414.1,440.7 414.1,410.2 414.2,347.2 414.3,384.8 414.3,373.2 414.4,466.2 414.4,409.6 414.5,399 414.5,378.4 414.6,391.5 414.7,371.6 414.7,416 414.8,420.1 414.8,418 414.9,414.7 415,417.7 415,377.5 415.1,400.5 415.1,385.5 415.2,388.7 415.3,359 415.3,385.4 415.4,383.2 415.4,384.9 415.5,467.8 415.5,437.7 415.6,407.4 415.7,381 415.7,416.7 415.8,421.1 415.8,395.2 415.9,426.9 416,440.2 416,419.1 416.1,405.3 416.1,385.3 416.2,377.9 416.2,390.2 416.3,421.9 416.4,434 416.4,428.3 416.5,417.8 416.5,418 416.6,404.3 416.7,425.2 416.7,431.9 416.8,453.2 416.8,409.2 416.9,424.7 417,411.9 417,399.2 417.1,404.1 417.1,415.2 417.2,427.2 417.2,430.3 417.3,459.1 417.4,454.3 417.4,426.5 417.5,418.3 417.5,403.1 417.6,393.9 417.7,389.4 417.7,397 417.8,399.8 417.8,386.9 417.9,403.7 418,435.5 418,407.3 418.1,407.2 418.1,385.2 418.2,408.9 418.2,446.9 418.3,435.7 418.4,440 418.4,450.3 418.5,398.9 418.5,396.9 418.6,428.2 418.7,458.5 418.7,440.6 418.8,445.3 418.8,405.6 418.9,381.2 419,384.7 419,383.5 419.1,436.7 419.1,395.5 419.2,412.6 419.2,389.5 419.3,432.3 419.4,443.8 419.4,400.9 419.5,432.2 419.5,417.5 419.6,422 419.7,375.9 419.7,378.8 419.8,360.9 419.8,378.8 419.9,429.3 420,373.9 420,399.6 420.1,401.5 420.1,404.7 420.2,442.9 420.2,412.1 420.3,419.5 420.4,456.9 420.4,473.7 420.5,464.5 420.5,479 420.6,458.6 420.7,462.1 420.7,442.5 420.8,438.6 420.8,417.1 420.9,416 421,419.2 421,435.4 421.1,454.1 421.1,459.1 421.2,433.2 421.2,437.2 421.3,399 421.4,390.5 421.4,429.6 421.5,416.2 421.5,393.2 421.6,416.7 421.7,394.4 421.7,419.2 421.8,390 421.8,392.6 421.9,408.6 422,447.2 422,439.5 422.1,448.1 422.1,431.1 422.2,445.6 422.2,428 422.3,436 422.4,420.9 422.4,408.3 422.5,411.6 422.5,407.6 422.6,394.5 422.7,423 422.7,411.8 422.8,411.4 422.8,386.6 422.9,403.2 423,392.1 423,436.1 423.1,405.4 423.1,402.9 423.2,401.9 423.2,391.4 423.3,427 423.4,428.2 423.4,422.3 423.5,426.9 423.5,434 423.6,407.1 423.7,410.1 423.7,417.5 423.8,415.9 423.8,388.5 423.9,362.3 424,361.2 424,371.5 424.1,416.1 424.1,427.8 424.2,443.5 424.2,453.6 424.3,411.2 424.4,426 424.4,392.5 424.5,399.3 424.5,408.6 424.6,415.9 424.7,447.5 424.7,443.9 424.8,414.3 424.8,401 424.9,404.1 425,395.5 425,401 425.1,469.7 425.1,360.9 425.2,380.1 425.2,473.7 425.3,471.8 425.4,466 425.4,441.8 425.5,412.3 425.5,415.5 425.6,414.4 425.7,404.6 425.7,430.2 425.8,427.1 425.8,417.6 425.9,426.7 426,441.1 426,422.3 426.1,401 426.1,407.8 426.2,459.9 426.2,460.1 426.3,452.4 426.4,430.3 426.4,435.4 426.5,437.5 426.5,410.4 426.6,389.1 426.7,398.7 426.7,428.2 426.8,449.4 426.8,422.9 426.9,436.6 427,428.9 427,427.6 427.1,419.6 427.1,410.7 427.2,434.2 427.2,440.2 427.3,425.8 427.4,420.4 427.4,447.2 427.5,392.6 427.5,430.5 427.6,400.8 427.7,440.9 427.7,408.1 427.8,445.8 427.8,413.3 427.9,408.5 427.9,391.9 428,415.6 428.1,407.4 428.1,402.7 428.2,401.5 428.2,416.7 428.3,383 428.4,433.6 428.4,458.5 428.5,471.9 428.5,413.8 428.6,431.4 428.7,438.6 428.7,442.7 428.8,435.9 428.8,430.6 428.9,432.5 428.9,456.4 429,428 429.1,420.3 429.1,383.1 429.2,384.4 429.2,395.8 429.3,431.6 429.4,420.6 429.4,403 429.5,369.6 429.5,376.5 429.6,371.9 429.7,373.3 429.7,352.1 429.8,349.7 429.8,371.4 429.9,416 429.9,377.5 430,387 430.1,411.4 430.1,439.2 430.2,464.9 430.2,434.3 430.3,426.3 430.4,411.6 430.4,383.7 430.5,405.3 430.5,399.3 430.6,412.8 430.7,427.6 430.7,463.2 430.8,455.8 430.8,414 430.9,421 430.9,408.6 431,404.8 431.1,362.9 431.1,349.1 431.2,452.1 431.2,401.8 431.3,379.8 431.4,385 431.4,390.7 431.5,372.3 431.5,373.7 431.6,382.9 431.7,331.6 431.7,350.8 431.8,399.3 431.8,394.5 431.9,392.9 431.9,363.3 432,373.1 432.1,397.8 432.1,392.9 432.2,461.6 432.2,420.2 432.3,439.7 432.4,420.1 432.4,448.8 432.5,448.4 432.5,444.1 432.6,416 432.7,418.1 432.7,411.5 432.8,423.9 432.8,412 432.9,417.9 432.9,398 433,392.1 433.1,362.5 433.1,362.6 433.2,381.9 433.2,404.1 433.3,395.2 433.4,378.5 433.4,349.5 433.5,378.6 433.5,410.3 433.6,437.2 433.7,437.6 433.7,422.9 433.8,415.2 433.8,411 433.9,402.9 433.9,390 434,422.4 434.1,407.7 434.1,402.7 434.2,399.7 434.2,402.9 434.3,431.9 438.3,326.7 434.4,406.5 434.5,400.2 434.5,387.3 434.6,384.9 434.7,375.2 437.1,317.6 434.8,393.4 434.8,410.9 434.9,381.9 434.9,396.5 435,340.2 435.1,379.8 435.1,374.6 436.9,287.7 435.2,369.2 435.3,390.7 435.4,422.6 435.4,326.6 436.8,325.6 435.5,408.5 435.6,380.2 435.7,366.7 435.7,352.3 435.8,377 435.8,364.5 435.9,345.5 435.9,365.7 436,365.3 436.9,314.2 436.1,342.2 437.1,325 436.2,356.7 436.3,312.7 436.6,326.6 436.4,345.6 436.5,301.6 436.5,339.5 438.2,290.6 436.7,371.4 436.7,374.6 437.4,289.5 436.8,363 436.9,361.9 436.9,356.4 437,354.2 437.1,357.3 437.1,342.6 437.2,351.5 437.2,361 437.5,323.9 437.4,391.6 437.4,393 437.5,449.5 437.5,351.8 437.6,361.2 437.7,317.5 437.7,307.6 437.8,332 437.8,338.3 436.4,295.2 437.9,393.7 438,366.4 438.1,361.4 438.1,396 438.2,366.2 438.2,377.1 438.3,376.8 438.4,404.2 438.4,389.7 438.5,370.8 438.5,376.5 438.6,371.2 436.5,311.4 438.7,378.2 438.8,372.9 438.8,369.3 438.9,351.2 438.9,330.5 439,344.9 439.1,329.3 439.1,294.2 439.2,349.1 437.1,315.8 439.3,388.9 437.5,325.8 439.4,333.6 439.5,347.2 439.5,377 436.7,326 439.7,363 439.7,392.1 439.8,405.7 439.8,378.5 436.6,311.1 439.9,380.5 440,392.8 440.1,409.1 440.1,372.9 440.2,339.2 440.2,363.7 440.3,300.6 440.4,319.2 440.4,320.2 440.5,329.8 440.5,365.5 440.6,336.5 440.6,340.3 440.7,333.5 440.8,338.4 440.8,354.4 440.9,293.3 440.9,307.5 441,333.3 441.1,325.5 441.1,366.2 441.2,353.7 441.2,283.3 441.3,332.1 441.4,329.8 441.4,368.1 441.5,362.9 441.5,334.1 441.6,367 441.6,383 441.7,347.3 441.8,345.5 441.8,334.8 441.9,331.7 441.9,372.1 442,400.8 442.1,418.6 442.1,388.5 442.2,404.7 442.2,419.2 442.3,408.5 442.4,394.4 442.4,377.4 442.5,406.4 442.5,364.1 442.6,383.9 442.6,373.8 442.7,371.8 442.8,389.5 442.8,372.9 442.9,363.6 442.9,340.1 443,305 443.1,280.5 443.1,291.8 443.2,308.3 443.2,343.2 443.3,385.2 443.4,371.2 443.4,382.6 443.5,383.5 443.5,388.2 443.6,373.9 443.6,381.5 443.7,326.6 443.8,326.4 443.8,357.8 443.9,357 443.9,333.5 444,375.8 444.1,371.6 444.1,383.6 444.2,379.7 444.2,387.8 444.3,380.4 444.4,370.6 444.4,361.2 444.5,395.9 444.5,376.4 444.6,377.2 444.6,389.9 444.7,387.3 444.8,353.4 444.8,368.2 444.9,389.7 444.9,373.7 445,381 445.1,368.6 445.1,369.5 445.2,348 445.2,374.9 445.3,385.6 445.4,364.9 445.4,337.1 445.5,351.3 445.5,338.1 445.6,345.6 445.6,359.3 445.7,397.3 445.8,348.7 445.8,335.3 445.9,395.9 445.9,373.3 446,385.1 446.1,399 446.1,399.2 446.2,375.6 446.2,375.5 446.3,378.1 446.4,378.7 446.4,382.8 446.5,367.2 446.5,405.6 446.6,414 446.6,400.1 446.7,408.3 446.8,390.3 446.8,388.4 446.9,372.1 446.9,373.1 447,357.3 447.1,360.3 447.1,345.5 447.2,360.4 447.2,395.9 447.3,382.7 447.4,373.8 447.4,378.6 447.5,349.2 447.5,340.8 447.6,309.3 447.6,338.4 447.7,354.6 447.8,343 447.8,310.4 447.9,345.4 447.9,336.7 448,343.9 448.1,354.1 448.1,331 448.2,316.7 448.2,312.3 448.3,344 448.4,346.4 448.4,384 448.5,359.1 448.5,382.8 448.6,375.6 448.6,345.9 448.7,352.4 448.8,347.1 448.8,362.6 448.9,289.5 448.9,344.6 449,358.9 449.1,357 449.1,283.5 449.2,324.5 449.2,331.5 449.3,316.7 449.4,377.5 449.4,344.9 449.5,336.4 449.5,300.8 449.6,277 449.6,292.3 449.7,284.3 449.8,327.7 449.8,362.2 449.9,361.6 449.9,352 450,357.7 450.1,344.6 452.1,318.7 450.2,295 450.2,322.9 450.3,345.9 450.4,337.6 450.4,338.7 450.5,331.1 450.5,298.3 450.6,342 450.6,330.4 450.7,308.2 453.5,311.3 450.8,356.8 450.9,364.2 450.9,334.5 451,345.5 451.1,342.6 451.1,353.4 451.2,329.3 451.9,324.3 451.3,356.2 452.7,296.8 451.4,332.2 451.5,335.4 452.6,291.9 451.6,407.8 451.6,377 451.7,400.1 451.8,381.1 451.8,384.9 451.9,368.6 451.9,377.3 452,411.1 452.1,361.3 452.1,357.4 452.2,357.6 452.2,315.4 452.3,311.3 452.3,297.5 452.4,324.2 452.8,316.8 452.5,326.2 452.6,349.3 452.6,328.1 452.7,324.6 452.8,340.8 452.8,352.2 452.7,282 452.9,338.9 453.7,312.4 453.1,328.8 453.1,339.5 453.2,407.4 452.6,314 453.3,344.9 453.3,358.4 453.2,282.7 453.5,335.2 453.5,365.3 453.6,324.5 453.6,315.3 453.7,286 453.8,308.5 454.2,294.1 453.1,308.2 453.9,363.2 454,373.7 454.1,334.5 452.2,290.1 454.2,370.9 454.2,352.8 454.3,315.2 454.3,329.2 454.4,343 454.5,345.5 452,322.3 454.6,376.6 454.6,358.8 453.9,286.7 454.8,324.1 454.8,309.3 454.9,312 454.9,277.2 455,311.1 455.1,333.1 455.1,303.5 455.2,324.2 455.2,352.1 455.3,367.1 455.3,365.2 453.4,304.6 455.5,360.5 455.5,356 455.6,332.3 455.6,368.1 455.7,374.9 455.8,384.4 455.8,368.2 455.9,360.9 455.9,349 456,342.8 456.1,375.5 456.1,368.3 456.2,367.8 456.2,369.8 456.3,360.9 456.3,399.2 456.4,400.6 456.5,395 456.5,400.9 456.6,409.4 456.6,381 456.7,362.8 456.8,333.9 456.8,370.5 456.9,411.5 456.9,388.6 457,390.9 457.1,404.1 457.1,386.8 457.2,386.4 457.2,411.9 457.3,399.7 457.3,417.8 457.4,397.2 457.5,411.3 457.5,422.7 457.6,398.4 457.6,377.8 457.7,385.7 457.8,404.3 457.8,388.1 457.9,385.7 457.9,382.6 458,391.3 458.1,412.7 458.1,410.5 458.2,379.5 458.2,394.5 458.3,394.4 458.3,393.7 458.4,376.9 458.5,377.8 458.5,390.1 458.6,358 458.6,369.2 458.7,373.4 458.8,391.9 458.8,413.7 458.9,398.2 458.9,400.1 459,390.9 459.1,421.9 459.1,383.7 459.2,384.6 459.2,371.8 459.3,395.6 459.3,390.3 459.4,385.9 459.5,366 459.5,359.2 459.6,403.4 459.6,392.3 459.7,386.5 459.8,390.3 459.8,383.3 459.9,372.3 459.9,357.8 460,387.4 460.1,398.4 460.1,390.7 460.2,375.4 460.2,394.2 460.3,389.2 460.3,406.4 460.4,396.5 460.5,393.9 460.5,380.9 460.6,356.3 460.6,381.3 460.7,374.6 460.8,403.8 460.8,391 460.9,356.4 460.9,394.4 461,398.5 461.1,435.7 461.1,412.1 461.2,365.1 461.2,389.2 461.3,382.1 461.3,358.4 461.4,383.1 461.5,380.6 461.5,395.1 461.6,398.9 461.6,393.4 461.7,375.7 461.8,375.9 461.8,380.7 461.9,385.8 461.9,367.3 462,366.2 462.1,367.2 462.1,405 462.2,401.2 462.2,411.4 462.3,373.8 462.3,367.6 462.4,348.9 462.5,379.8 462.5,406.7 462.6,410.6 462.6,391.6 462.7,400 462.8,382.7 462.8,359.7 462.9,376 462.9,361.8 463,406.8 463.1,416 463.1,412.7 463.2,406.8 463.2,418.3 463.3,410.6 463.3,383.7 463.4,369.2 463.5,367.9 463.5,390.5 463.6,363.8 463.6,361 463.7,388.7 463.8,371.1 463.8,383.5 463.9,375.8 463.9,374.1 464,369.6 464,349.9 464.1,328.4 464.2,339.9 464.2,358.5 464.3,371.9 464.3,371.1 464.4,368.1 464.5,397.6 464.5,392.8 464.6,351.7 464.6,353.6 464.7,348.9 464.8,367.1 464.8,336.9 464.9,348.8 464.9,372 465,391.6 465,383.8 465.1,356.6 465.2,382 465.2,400.4 465.3,427.1 465.3,404 465.4,413.7 465.5,414.9 465.5,419.7 465.6,420.3 465.6,398.1 465.7,406.3 465.8,397.7 465.8,405.5 465.9,405 465.9,389.3 466,379.1 466,401.6 466.1,396.8 466.2,407.9 466.2,390.2 466.3,399.6 466.3,409.2 466.4,389.2 466.5,398.1 466.5,392.8 466.6,379.9 466.6,392.3 466.7,396.1 466.8,383.8 466.8,345.3 466.9,352.8 466.9,354.3 467,368.2 467,377.2 467.1,355.2 467.2,381.8 467.2,395.5 467.3,367.6 467.3,388.8 467.4,407.2 467.5,392.2 467.5,373.5 467.6,346.7 467.6,326.4 467.7,388.9 467.8,391.1 467.8,394.2 467.9,385 467.9,398.8 468,393.1 468,385.5 468.1,382.2 468.2,397.1 468.2,388.5 468.3,400.9 468.3,407.4 468.4,402.6 468.5,382.6 468.5,414 468.6,403.7 468.6,373 468.7,374.8 468.8,387.5 468.8,381.7 468.9,353.5 468.9,369.1 469,387 469,372.2 469.1,381.2 469.2,393.6 469.2,375.3 469.3,392.5 469.3,393.6 469.4,365.9 469.5,369.9 469.5,351 469.6,395.1 469.6,413 469.7,412.9 469.8,403.4 469.8,422.7 469.9,404.7 469.9,404.4 470,403.8 470,394.9 470.1,393.9 470.2,407.9 470.2,401.5 470.3,411.9 470.3,378.6 470.4,387.6 470.5,389.4 470.5,396.8 470.6,390.1 470.6,382.3 470.7,383.7 470.8,399.6 470.8,372.5 470.9,375.8 470.9,408 471,428.7 471,426.3 471.1,425.4 471.2,430.8 471.2,425.6 471.3,404 471.3,372.5 471.4,370.7 471.5,367.4 471.5,349.2 471.6,314 471.6,315.7 471.7,329 471.8,352.2 471.8,381.2 471.9,371.6 471.9,350.1 472,354.8 472,374.1 472.1,363.9 472.2,370.6 472.2,383.7 472.3,412.6 472.3,390.1 472.4,395.8 472.5,367 472.5,382.2 472.6,378 472.6,387 472.7,348.3 472.8,330.6 472.8,349.6 472.9,329.7 472.9,373.6 473,362.1 473,378.2 473.1,380.1 473.2,386.9 473.2,372.3 473.3,404.6 473.3,401.8 473.4,368.5 473.5,410.1 473.5,401.7 473.6,413.5 473.6,436.3 473.7,411.3 473.8,407 473.8,375.4 473.9,408 473.9,391.8 474,359 474,400.1 474.1,382.4 474.2,370 474.2,371.5 474.3,349.7 474.3,350.8 474.4,377.5 474.5,392.9 474.5,391.6 474.6,359.4 474.6,372.3 474.7,361.1 474.8,373.6 474.8,367.1 474.9,365 474.9,350.5 475,329 475,363.1 475.1,392.1 475.2,391.2 475.2,390 475.3,384.5 475.3,368.3 475.4,383.4 475.5,385 475.5,386 475.6,367.9 475.6,383.6 475.7,365 475.7,338.5 475.8,364.3 475.9,348.6 475.9,355.8 476,371.2 476,341.9 476.1,338.7 476.2,366.4 476.2,366.5 476.3,387.2 476.3,408.6 476.4,384.8 476.5,386.3 476.5,358.7 476.6,368.2 476.6,371.7 476.7,380.1 476.7,380.4 476.8,395.8 476.9,396.1 476.9,417.5 477,429.4 477,431 477.1,423.3 477.2,411.3 477.2,404.8 477.3,379.2 477.3,336.7 477.4,399 477.5,370.3 477.5,360.5 477.6,381.4 477.6,381 477.7,412.7 477.7,406.2 477.8,373.1 477.9,397.8 477.9,402.5 478,395 478,381 478.1,382.9 478.2,393.3 478.2,380.6 478.3,393 478.3,348.8 478.4,341.9 478.5,359.8 478.5,385.5 478.6,395.8 478.6,404.1 478.7,403.3 478.7,391.4 478.8,409.7 478.9,399.7 478.9,395.8 479,407.6 479,380.9 479.1,376.9 479.2,377.2 479.2,391.9 479.3,402.6 479.3,397.6 479.4,415.7 479.5,401.5 479.5,413.4 479.6,405.3 479.6,389.7 479.7,394.3 479.7,402.7 479.8,408.8 479.9,399.9 479.9,412.2 480,404.8 480,384.3 480.1,414.4 480.2,416.2 480.2,402.7 480.3,413.7 480.3,419 480.4,424.2 480.5,399.9 480.5,425.1 480.6,414.2 480.6,408.3 480.7,401.4 480.7,408.6 480.8,400.8 480.9,404.6 480.9,411.5 481,361.3 481,355.4 481.1,388.5 481.2,400.2 481.2,389.7 481.3,365.8 481.3,379.3 481.4,371.7 481.5,375.8 481.5,361.4 481.6,383.2 481.6,398.6 481.7,392 481.7,388.1 481.8,389.5 481.9,371.4 481.9,369.3 482,378.1 482,402.7 482.1,389.6 482.2,378.8 482.2,395.8 482.3,397.5 482.3,412.7 482.4,405.3 482.5,405.6 482.5,425.8 482.6,416.6 482.6,415.5 482.7,415.5 482.7,398.1 482.8,395.4 482.9,389.1 482.9,402.2 483,388.3 483,407.4 483.1,399.2 483.2,421.4 483.2,414.4 483.3,424.4 483.3,434.7 483.4,418.7 483.5,414.1 483.5,407.9 483.6,410 483.6,408.8 483.7,411.9 483.7,415.4 483.8,414.6 483.9,388.2 483.9,412.6 484,430.7 484,434.7 484.1,434.3 484.2,421.7 484.2,406.8 484.3,396.4 484.3,406.2 484.4,400.6 484.5,382.2 484.5,386.5 484.6,379.9 484.6,404.8 484.7,396.1 484.7,391.6 484.8,413.6 484.9,411.3 484.9,402.6 485,415.4 485,401.3 485.1,391.5 485.2,394.2 485.2,401 485.3,406 485.3,401.8 485.4,389.5 485.5,413.5 485.5,408.6 485.6,404.8 485.6,416.1 485.7,427.3 485.7,421.8 485.8,434.9 485.9,421.4 485.9,418.9 486,426.8 486,418.8 486.1,424.1 486.2,425.9 486.2,404.4 486.3,415.2 486.3,441.2 486.4,425.2 486.5,430.5 486.5,432.1 486.6,404.7 486.6,407.3 486.7,398 486.7,419.3 486.8,427.4 486.9,430 486.9,413.9 487,420.4 487,438 487.1,419 487.2,421.9 487.2,416.7 487.3,405.7 487.3,381.3 487.4,394.4 487.4,381.9 487.5,410.9 487.6,409.6 487.6,407.2 487.7,434.2 487.7,436.5 487.8,435.2 487.9,421 487.9,423.4 488,424.1 488,427.4 488.1,416.8 488.2,416.3 488.2,416.2 488.3,418 488.3,408.7 488.4,418.8 488.4,417.2 488.5,415.8 488.6,410.9 488.6,400.4 488.7,401.6 488.7,421.1 488.8,406.5 488.9,394.8 488.9,386.8 489,386.7 489,414.6 489.1,414.5 489.2,403.9 489.2,397.1 489.3,403.4 489.3,404.6 489.4,419.1 489.4,410.7 489.5,433.4 489.6,426.3 489.6,408.5 489.7,422.2 489.7,402.1 489.8,381.4 489.9,385.9 489.9,400.9 490,409.2 490,422.4 490.1,408 490.2,420.5 490.2,413 490.3,423.3 490.3,410.5 490.4,425 490.4,419.2 490.5,422.5 490.6,404.3 490.6,409.9 490.7,410.4 490.7,395.4 490.8,412.9 490.9,424.7 490.9,418.1 491,425.4 491,398.1 491.1,399.7 491.2,399.3 491.2,406 491.3,443.1 491.3,413.8 491.4,412.8 491.4,434.5 491.5,436.5 491.6,425.8 491.6,405 491.7,403 491.7,401.8 491.8,401.6 491.9,415.4 491.9,421.2 492,417.2 492,429.9 492.1,422.5 492.2,411.3 492.2,437.8 492.3,430.5 492.3,426.8 492.4,420.8 492.4,399.7 492.5,420.6 492.6,398.1 492.6,398.2 492.7,379.7 492.7,398.6 492.8,402.4 492.9,409.8 492.9,408 493,421.3 493,428.2 493.1,426.4 493.2,417.4 493.2,431.4 493.3,430.4 493.3,432.8 493.4,425.5 493.4,416.2 493.5,432.9 493.6,438.4 493.6,435.7 493.7,440.4 493.7,420.8 493.8,406.9 493.9,407.5 493.9,410.2 494,426.6 494,435.2 494.1,428.2 494.2,414.8 494.2,423.2 494.3,422.8 494.3,411.4 494.4,403.8 494.4,422.7 494.5,423.4 494.6,420 494.6,438 494.7,439.2 494.7,434.5 494.8,437.7 494.9,431.3 494.9,434.9 495,447.8 495,451.9 495.1,461.4 495.2,460.8 495.2,445.8 495.3,439.3 495.3,433.9 495.4,424.9 495.4,438.1 495.5,441.1 495.6,438.5 495.6,425.6 495.7,428.3 495.7,433.1 495.8,433 495.9,441.7 495.9,454.5 496,444.9 496,445.7 496.1,440.2 496.2,448.4 496.2,451.4 496.3,441.9 496.3,440.2 496.4,434.3 496.4,441.8 496.5,441.4 496.6,437.3 496.6,433.6 496.7,437.6 496.7,438 496.8,440.8 496.9,442.9 496.9,443.7 497,441.2 497,450.8 497.1,448.7 497.2,453.6 497.2,450.3 497.3,450.1 497.3,447.6 497.4,448.8 497.4,449 497.5,456.5 497.6,445 497.6,454.1 497.7,462.5 497.7,455.1 497.8,449.5 497.9,450 497.9,451.7 498,457.2 498,444.6 498.1,456.1 498.2,441.8 498.2,453.9 498.3,458.2 498.3,456.9 498.4,457.2 498.4,452.8 498.5,457 498.6,457 498.6,463.2 498.7,453.5 498.7,455 498.8,458.2 498.9,456.4 498.9,451.3 499,450.9 499,455.7 499.1,454.7 499.2,453.3 499.2,452.3 499.3,454.9 499.3,452.3 499.4,458.6 499.4,457.1 499.5,460.2 499.6,458.5 499.6,460.3 499.7,456.2 499.7,457.7 499.8,451.3 499.9,456.3 499.9,450.3 500,454.9 500,465.3 500.1,464.5 500.1,454.5 500.2,451.4 500.3,447.7 500.3,449.8 500.4,446.8 500.4,452.1 500.5,439.7 500.6,432.3 500.6,434 500.7,441.1 500.7,445.6 500.8,440.3 500.9,438.3 500.9,445 501,438.1 501,432.6 501.1,431.1 501.1,430.9 501.2,431.5 501.3,433.3 501.3,436.3 501.4,440.1 501.4,428.6 501.5,442 501.6,437.5 501.6,428.7 501.7,411.9 501.7,422.6 501.8,415.7 501.9,412.1 501.9,412.5 502,405.6 502,428.8 502.1,421.9 502.1,426.2 502.2,424.4 502.3,427.9 502.3,435.4 502.4,448.1 502.4,437.6 502.5,436.5 502.6,444.4 502.6,439.7 502.7,444.7 502.7,445.6 502.8,437.6 502.9,427.8 502.9,443.9 503,438.4 503,429.3 503.1,439.2 503.1,437.1 503.2,430.4 503.3,421 503.3,433 503.4,444.4 503.4,442.5 503.5,440.3 503.6,434.6 503.6,430.4 503.7,445.5 503.7,430.5 503.8,443 503.9,431.9 503.9,423.5 504,418.9 504,417 504.1,415.1 504.1,424.8 504.2,430.9 504.3,405.5 504.3,395 504.4,390.6 504.4,392.9 504.5,418.6 504.6,398.5 504.6,407.6 504.7,411 504.7,404.4 504.8,415.5 504.9,400.8 504.9,431.9 505,410.9 505,405.8 505.1,417.6 505.1,405.6 505.2,394.5 505.3,391.6 505.3,388 505.4,399.2 505.4,390.6 505.5,385.2 505.6,378.8 505.6,382.1 505.7,411.8 505.7,403.1 505.8,420.1 505.9,423.7 505.9,417.9 506,410.5 506,411.8 506.1,404.6 506.1,397.7 506.2,397.5 506.3,399 506.3,396.5 506.4,390.6 506.4,407.8 506.5,425.6 506.6,403.4 506.6,402.1 506.7,433 506.7,407.4 506.8,391.9 506.9,421 506.9,430.3 507,427.4 507,434.6 507.1,431.6 507.1,422.8 507.2,404.4 507.3,436.9 507.3,424.3 507.4,404.4 507.4,436.4 507.5,421.4 507.6,417.4 507.6,421.1 507.7,407.2 507.7,392.1 507.8,386.3 507.9,371.7 507.9,396.3 508,426.9 508,427.2 508.1,419.4 508.1,403.4 508.2,401.4 508.3,413.4 508.3,398.4 508.4,400.1 508.4,403.7 508.5,410.9 508.6,408.7 508.6,405.8 508.7,410.2 508.7,438.9 508.8,439.3 508.9,425.2 508.9,404 509,395.2 509,390.3 509.1,380 509.1,385.3 509.2,380.8 509.3,381.3 509.3,390.2 509.4,408.4 509.4,427.8 509.5,415.2 509.6,427.1 509.6,420.8 509.7,406.7 509.7,415.3 509.8,400.7 509.9,401.8 509.9,414.1 510,403.1 510,394.5 510.1,404.2 510.1,397.4 510.2,413.7 510.3,407.6 510.3,401.3 510.4,414.4 510.4,407.6 510.5,385.7 510.6,399.6 510.6,414.3 510.7,427 510.7,425.8 510.8,429.5 510.9,438.9 510.9,420.7 511,406.5 511,415.5 511.1,406.5 511.1,388.8 511.2,385.8 511.3,386.2 511.3,379.5 511.4,394.2 511.4,381.1 511.5,359.4 511.6,381.7 511.6,412.4 511.7,414.5 511.7,419.6 511.8,405.1 511.8,382.1 511.9,377.3 512,357.8 512,364 512.1,373 512.1,407.5 512.2,394.5 512.3,401.5 512.3,404.1 512.4,401.7 512.4,372.8 512.5,366.1 512.6,374.3 512.6,400.7 512.7,402 512.7,400.5 512.8,383 512.8,377.3 512.9,374.3 513,393.9 513,378.3 513.1,343.7 513.1,382.3 513.2,400.3 513.3,395.3 513.3,379.3 513.4,380.1 513.4,382.9 513.5,365 513.6,390.9 513.6,420.4 513.7,430.7 513.7,403.8 513.8,385.8 513.8,394 513.9,414.1 514,418.1 514,403 514.1,385.8 514.1,398 514.2,408.4 514.3,416 514.3,416.3 514.4,398.6 514.4,394.8 514.5,390.3 514.6,391.1 514.6,390.5 514.7,411 514.7,420 514.8,405.8 514.8,396.6 514.9,381.6 515,388.7 515,404 515.1,403.9 515.1,404.5 515.2,394.1 515.3,397.5 515.3,390.1 515.4,385.2 515.4,382.3 515.5,379.9 515.6,400 515.6,382.7 515.7,364.9 515.7,365.1 515.8,354.4 515.8,363.8 515.9,382.5 516,378.7 516,384.2 516.1,388.6 516.1,367.1 516.2,388.6 516.3,373.4 516.3,387.7 516.4,412.6 516.4,392.8 516.5,389.5 516.6,385.8 516.6,382.9 516.7,369.2 516.7,370.9 516.8,380.5 516.8,383.8 516.9,377.8 517,388.4 517,381.2 517.1,411.3 517.1,402.1 517.2,395.1 517.3,380.5 517.3,397.3 517.4,394.9 517.4,384 517.5,343.4 517.6,356.8 517.6,358.7 517.7,376.2 517.7,348.3 517.8,365.5 517.8,375.9 517.9,376.7 518,398 518,406.6 518.1,402.4 518.1,406.7 518.2,383.9 518.3,391.5 518.3,357.6 518.4,365.2 518.4,384 518.5,382.9 518.6,374.9 518.6,380 518.7,377.1 518.7,384.8 518.8,397.3 518.8,395.5 518.9,369.3 519,383.2 519,387.1 519.1,409.5 519.1,411.2 519.2,399.1 519.3,401.2 519.3,382.5 519.4,374 519.4,388 519.5,392 519.6,384.5 519.6,384.1 519.7,392.7 519.7,418 519.8,391.5 519.8,393.3 519.9,392.6 520,403.6 520,382.3 520.1,390 520.1,391.2 520.2,419.6 520.3,417 520.3,410.5 520.4,401.1 520.4,391.9 520.5,397.5 520.6,385.8 520.6,393.2 520.7,398.3 520.7,399.4 520.8,420.8 520.8,440.4 520.9,402.3 521,423.6 521,422.6 521.1,407.5 521.1,413.8 521.2,396 521.3,422.8 521.3,413.5 521.4,402.2 521.4,376.5 521.5,369.9 521.6,392.5 521.6,387 521.7,390.8 521.7,410.9 521.8,414.5 521.8,398 521.9,404.2 522,415.9 522,419.1 522.1,428.6 522.1,438.1 522.2,420.5 522.3,408.9 522.3,394.9 522.4,417.7 522.4,426.3 522.5,412.9 522.6,408.3 522.6,409.3 522.7,422.2 522.7,419.4 522.8,430.9 522.8,402.3 522.9,395.1 523,411.2 523,393.9 523.1,411 523.1,401.7 523.2,401.2 523.3,407.7 523.3,390.4 523.4,416.4 523.4,416 523.5,415.7 523.5,433.3 523.6,440.6 523.7,424.9 523.7,414 523.8,422.8 523.8,409.2 523.9,402.2 524,394.3 524,401.9 524.1,404.7 524.1,398 524.2,408 524.3,417.4 524.3,427.5 524.4,412.9 524.4,395.2 524.5,421.7 524.5,418.8 524.6,405 524.7,387.6 524.7,391.6 524.8,406.8 524.8,397.8 524.9,373.5 525,381.5 525,382.5 525.1,371.1 525.1,401.6 525.2,393.2 525.3,380.4 525.3,378.3 525.4,386.4 525.4,397.4 525.5,406.3 525.5,420.3 525.6,419.5 525.7,426.9 525.7,418.9 525.8,415.4 525.8,417.6 525.9,416.8 526,411.1 526,422.3 526.1,407.9 526.1,404.3 526.2,397.5 526.3,403.8 526.3,406.1 526.4,403.5 526.4,402.3 526.5,407.2 526.5,409.5 526.6,413.1 526.7,413.4 526.7,417.9 526.8,421.3 526.8,425.6 526.9,401.3 527,410 527,408.8 527.1,418 527.1,410.9 527.2,394.5 527.3,406.6 527.3,404 527.4,405 527.4,395.2 527.5,399.9 527.5,403 527.6,406.3 527.7,427.4 527.7,407.3 527.8,388.1 527.8,404.1 527.9,394.9 528,398.9 528,385.3 528.1,399 528.1,396.4 528.2,385.2 528.3,387 528.3,391.7 528.4,397.3 528.4,406.7 528.5,404.3 528.5,414.8 528.6,392.5 528.7,391 528.7,397.9 528.8,416.6 528.8,400.1 528.9,387.1 529,388.9 529,385.3 529.1,383.2 529.1,391.7 529.2,399.3 529.3,399.7 529.3,387.9 529.4,400.2 529.4,418.4 529.5,411.2 529.5,407 529.6,406.7 529.7,403.7 529.7,416.3 529.8,420.6 529.8,418.3 529.9,413.7 530,404.9 530,397.4 530.1,398.6 530.1,402.9 530.2,414.3 530.3,416 530.3,428.4 530.4,427.1 530.4,414.7 530.5,405.9 530.5,417 530.6,401.2 530.7,428 530.7,414.6 530.8,412.1 530.8,412.3 530.9,406.7 531,411.8 531,387.8 531.1,400.8 531.1,407.2 531.2,404.4 531.3,425.9 531.3,420 531.4,429.6 531.4,406.7 531.5,412.1 531.5,411.4 531.6,428.2 531.7,400.7 531.7,421.2 531.8,430.8 531.8,429 531.9,444 532,443.1 532,432.9 532.1,410.9 532.1,397.1 532.2,413.1 532.3,416.3 532.3,405 532.4,392.7 532.4,407.2 532.5,409.7 532.5,408.5 532.6,406.1 532.7,409 532.7,388.5 532.8,398 532.8,388.4 532.9,389.6 533,366.1 533,366.1 533.1,399.7 533.1,395.1 533.2,421.5 533.3,400.5 533.3,405.9 533.4,429 533.4,430.8 533.5,424.9 533.5,402.3 533.6,403.3 533.7,399.9 533.7,410.3 533.8,414.7 533.8,428.2 533.9,424.8 534,421.7 534,417.8 534.1,423.7 534.1,420.9 534.2,421.9 534.3,415.3 534.3,420.5 534.4,423 534.4,427.5 534.5,428 534.5,423.9 534.6,429.3 537.1,334 534.7,396.5 534.8,397 534.8,392.6 534.9,412.1 535,417.2 536.8,330.2 535.1,410.4 535.1,398.9 535.2,391 535.2,413.3 535.3,409.8 535.4,392.9 535.4,398.9 535.5,393.2 535.5,416.3 535.6,408.2 537.6,309.5 535.7,428.2 535.8,404.2 535.8,381.7 535.9,375 536,386.4 536,390.1 536.1,399.2 536.1,386.9 536.2,381 537.2,310.9 536.9,337.4 536.4,364.7 537,338.5 536.5,389.9 536.8,310.4 536.9,297.9 536.7,399.4 536.7,375 536.8,358.9 536.8,373.6 536.9,384 537,332.1 537,381.5 537.1,355.1 537.1,359.9 537.2,383.5 537.2,388.6 537.3,367 537.4,322.4 537.4,326 537.5,364.9 537.5,379.5 537.6,367.6 537.7,367.2 537.7,361 537.8,322.2 537.8,357 537.9,376.9 538,371.4 538,366.6 538.1,360.6 538.1,345.8 538.2,352.8 536.7,337.8 538.3,344.2 538.4,345 538.4,383.9 537.6,295.3 538.5,387.9 538.6,367 538.7,377.9 537.8,312.3 538.8,394.1 538.8,352.4 538.9,384.1 539,372.5 539,368.6 539.1,341.4 539.1,338.1 539.2,354.3 539.2,342.8 539.3,327.7 539.4,348.2 539.4,384.1 537.6,331.2 539.5,382.4 539.6,392.8 539.7,378.2 539.7,351 539.8,351.5 537,311.4 539.9,336.2 540,368.4 540,361.8 537.3,338.4 537.2,329.1 540.2,360.9 540.2,330 540.3,337.8 540.4,312.7 540.4,359 540.5,348.6 540.5,383.7 540.6,406.2 540.7,414.6 540.7,372.7 540.8,361.4 540.8,334.1 540.9,360.1 541,391.4 541,362.5 541.1,374.4 541.1,396.9 541.2,368 541.2,345.8 541.3,366.1 541.4,361.3 541.4,351.1 541.5,372.5 541.5,383.2 541.6,369.4 541.7,336.3 541.7,364.4 541.8,348.5 541.8,343.2 541.9,347.2 542,356.7 542,374.1 542.1,357.1 542.1,361.4 542.2,407.2 542.2,383.4 542.3,389.6 542.4,381.5 542.4,337.5 542.5,341.7 542.5,388.2 542.6,386.3 542.7,398.1 542.7,366.6 542.8,425.5 542.8,391 542.9,379.8 543,380.4 543,367.1 543.1,334.4 543.1,380.3 543.2,383.8 543.2,377.2 543.3,372.4 543.4,374.5 543.4,362.5 543.5,361.1 543.5,370.2 543.6,401.2 543.7,374.3 543.7,343.7 543.8,330.3 543.8,335.6 543.9,324.7 544,366.2 544,349.7 544.1,347.8 544.1,354 544.2,335.6 544.2,348.4 544.3,359.7 544.4,378.1 544.4,404.1 544.5,394.5 544.5,348.1 544.6,318.1 544.7,345.3 544.7,347.4 544.8,323.2 544.8,356 544.9,365 545,388.2 545,345.7 545.1,362.1 545.1,366.9 545.2,363.5 545.2,376.9 545.3,320.4 545.4,312.7 545.4,290.5 545.5,355.9 545.5,342.1 545.6,351.5 545.7,374.9 545.7,366.6 545.8,333.3 545.8,321.8 545.9,346.1 546,295.6 546,296.2 546.1,335.8 546.1,360.7 546.2,371.9 546.2,368.6 546.3,374.6 546.4,380.6 546.4,355.4 546.5,369.2 546.5,363.5 546.6,373.7 546.7,373.2 546.7,347.6 546.8,352.8 546.8,342.9 546.9,352 546.9,336.9 547,348.2 547.1,334.9 547.1,368.9 547.2,348.4 547.2,347.7 547.3,370.9 547.4,380.7 547.4,408.9 547.5,397.3 547.5,383.2 547.6,386.8 547.7,363.4 547.7,402.2 547.8,394.1 547.8,406.1 547.9,401.8 547.9,377.6 548,377.5 548.1,354 548.1,369.4 548.2,383.4 548.2,386.2 548.3,406.6 548.4,409.7 548.4,399.6 548.5,378.9 548.5,396 548.6,405.1 548.7,420.6 548.7,427.2 548.8,411.6 548.8,400.8 548.9,390.2 548.9,392.8 549,374.8 549.1,405.6 549.1,398.8 549.2,384.7 549.2,390.7 549.3,383 549.4,388.1 549.4,393.4 549.5,388.6 549.5,397.7 549.6,394 549.7,382.5 549.7,400.6 549.8,385.3 549.8,368.9 549.9,352.1 549.9,370.8 550,360.7 550.1,398.3 550.1,413.9 550.2,402.4 550.2,412.7 550.3,416.4 550.4,419.9 550.4,411.9 550.5,412 550.5,416.5 550.6,406 550.7,406.8 550.7,399.7 550.8,391 550.8,382.3 550.9,388.2 550.9,394.7 551,398.6 551.1,410.5 551.1,395.5 551.2,393.9 551.2,377.2 551.3,377.9 551.4,389.8 551.4,377.6 551.5,386.7 551.5,389 551.6,382.9 551.7,382.4 551.7,396.4 551.8,384 551.8,381.1 551.9,385.1 551.9,390 552,386.8 552.1,409.5 552.1,383.5 552.2,421.3 552.2,423.3 552.3,424.2 552.4,405.5 552.4,399.3 552.5,391.2 552.5,408.5 552.6,385.1 552.7,375.3 552.7,411.2 552.8,400.9 552.8,424.5 552.9,419.5 552.9,401.2 553,397.7 553.1,414.1 553.1,414.5 553.2,391.2 553.2,389.8 553.3,381.4 553.4,409.8 553.4,396.2 553.5,392.7 553.5,406.4 553.6,382.5 553.7,388 553.7,378.9 553.8,392.2 553.8,388 553.9,383.9 553.9,390.1 554,390.9 554.1,388.8 554.1,392.9 554.2,410.8 554.2,400.6 554.3,400.5 554.4,395.7 554.4,406.9 554.5,383.2 554.5,377.5 554.6,368.2 554.7,356.7 554.7,361.3 554.8,380.6 554.8,404.5 554.9,388.8 554.9,390.5 555,384.8 555.1,375.7 555.1,388.6 555.2,405.7 555.2,400.1 555.3,407 555.4,416 555.4,407.3 555.5,409.6 555.5,402.4 555.6,416.5 555.7,414 555.7,414.2 555.8,411.9 555.8,417.1 555.9,406.3 555.9,423.3 556,412.8 556.1,399.5 556.1,403.9 556.2,405.7 556.2,416 556.3,411.3 556.4,406.7 556.4,407 556.5,405.2 556.5,402.5 556.6,404.4 556.7,427 556.7,433.3 556.8,426.7 556.8,399.9 556.9,395.1 556.9,403.5 557,410.3 557.1,416.8 557.1,410.5 557.2,415.7 557.2,415.3 557.3,424.4 557.4,425.5 557.4,431.6 557.5,433.4 557.5,430.2 557.6,413.6 557.7,411.7 557.7,404 557.8,414 557.8,413 557.9,420.8 557.9,421.7 558,421.9 558.1,436 558.1,428.7 558.2,436.1 558.2,424.9 558.3,428.7 558.4,439.6 558.4,442.7 558.5,441.9 558.5,420 558.6,431.6 558.6,430.4 558.7,424.6 558.8,424.3 558.8,423.1 558.9,415.3 558.9,423.5 559,405.8 559.1,398.5 559.1,404.9 559.2,397.9 559.2,405.2 559.3,414.7 559.4,427.6 559.4,430.4 559.5,420.3 559.5,416.6 559.6,402.3 559.6,394.1 559.7,395.4 559.8,403.3 559.8,392.4 559.9,403.1 559.9,431.8 560,428.8 560.1,419.8 560.1,413 560.2,408.7 560.2,403.8 560.3,433.7 560.4,403.5 560.4,402.2 560.5,406 560.5,428.4 560.6,413.9 560.6,423.9 560.7,439.8 560.8,422.6 560.8,412.4 560.9,413.3 560.9,421.9 561,412.7 561.1,410.7 561.1,406.1 561.2,402.1 561.2,420.8 561.3,410.2 561.4,422.8 561.4,410.5 561.5,412.5 563.3,378 561.6,391 561.6,392.9 561.7,393.9 561.8,387.1 561.8,365.4 561.9,414.2 561.9,401.4 562,399.1 562.1,383.6 562.1,388.2 562.2,391.8 562.2,385.4 562.3,389.4 562.4,402.8 562.4,398.6 564.3,371.9 562.5,371.6 562.6,410.6 562.6,404.7 562.7,412.4 562.8,390.6 562.8,405.9 562.9,400.5 562.9,388.6 563,376.7 563.1,389.8 563.1,385.4 563.9,373.1 563.2,377.5 564.4,371.2 563.4,396.4 563.4,395.8 563.5,385.7 564,366.7 563.6,377.3 563.6,399.8 563.7,393 563.8,395.4 563.8,433.3 563.9,399.6 563.9,393.6 564,400 564.1,380.4 564.1,376.3 564.2,414.6 564.2,397.9 564.3,360.5 564.4,367.8 564.4,364.8 564.5,398.3 564.5,416.7 564.6,426.1 564.6,396.8 564.7,381.3 564.8,420 564.8,395.9 564.9,423.1 563.7,373.3 565,416 565.1,416 565.1,407.4 565.2,398.8 563.9,376.1 565.3,392.7 565.4,402.5 565.4,409 565.5,371 565.5,365.1 565.6,361.3 565.6,367.6 565.7,375.7 565.8,365.2 565.8,378.8 565.9,406 565.9,423.3 566,380.5 566.1,401.1 566.1,408.9 566.2,407.1 566.2,390.6 566.3,408.6 566.4,408.2 566.4,400.5 566.5,417 563.9,374.7 566.6,393.5 566.6,394.7 566.7,397.6 566.8,394.8 566.8,400.3 566.9,408.3 566.9,414.4 567,402.6 567.1,424.2 567.1,432.3 567.2,415 567.2,400.8 567.3,404.7 567.4,417.7 567.4,433.7 567.5,420.2 567.5,416.9 567.6,413.7 567.6,411.5 567.7,425.2 567.8,430.8 567.8,428.1 567.9,427.7 567.9,441.5 568,446.3 568.1,439.8 568.1,421.9 568.2,403.1 568.2,411.5 568.3,421.8 568.4,422.9 568.4,425.9 568.5,435.6 568.5,460.3 568.6,448.5 568.6,447.9 568.7,443.5 568.8,448 568.8,446.1 568.9,441.6 568.9,449.8 569,450.4 569.1,441.6 569.1,435.6 569.2,449.6 569.2,440.8 569.3,432.7 569.4,433.8 569.4,434.6 569.5,437.3 569.5,437.6 569.6,443.3 569.6,436.4 569.7,440.4 569.8,451 569.8,446.1 569.9,441.3 569.9,441.4 570,449.3 570.1,445.3 570.1,462 570.2,447.6 570.2,445.3 570.3,456.3 570.4,464.3 570.4,446.6 570.5,447.1 570.5,452.3 570.6,450.3 570.6,452 570.7,453 570.8,451.3 570.8,450.1 570.9,455.8 570.9,452.8 571,451.4 571.1,456.2 571.1,449.8 571.2,448 571.2,454.3 571.3,444.6 571.3,444.7 571.4,440.8 571.5,448.5 571.5,451.9 571.6,451 571.6,453.8 571.7,453.7 571.8,459.5 571.8,446.3 571.9,445.7 571.9,441.5 572,436.9 572.1,442.7 572.1,436.3 572.2,453.4 572.2,454.3 572.3,455.3 572.3,453.1 572.4,457.1 572.5,449 572.5,437.8 572.6,440 572.6,439 572.7,453.7 572.8,454.4 572.8,448.1 572.9,450.3 572.9,445.6 573,446.7 573.1,442.5 573.1,450.6 573.2,443.3 573.2,432.6 573.3,430.5 573.3,419.5 573.4,427.3 573.5,425.2 573.5,438.7 573.6,431 573.6,429.1 573.7,433.2 573.8,425.3 573.8,437 573.9,437.4 573.9,433.1 574,440.3 574.1,444.3 574.1,431.3 574.2,433.6 574.2,440.3 574.3,439.9 574.3,440.7 574.4,442.6 574.5,434.8 574.5,441.4 574.6,448.7 574.6,440.8 574.7,437.1 574.8,424.4 574.8,437.3 574.9,439 574.9,427.2 575,425.4 575.1,431.9 575.1,437.8 575.2,429.1 575.2,429.8 575.3,436.6 575.3,437.6 575.4,437.9 575.5,427.1 575.5,449 575.6,446.2 575.6,429.9 575.7,443.7 575.8,440.6 575.8,429.6 575.9,440.6 575.9,441 576,443.8 576.1,437 576.1,439.7 576.2,444.6 576.2,438.2 576.3,433.3 576.3,422.8 576.4,429 576.5,430.8 576.5,435.3 576.6,423.6 576.6,416.3 576.7,428.4 576.8,446.5 576.8,424 576.9,441.7 576.9,451.3 577,447.3 577.1,424.7 577.1,417.5 577.2,424.5 577.2,420.8 577.3,425.8 577.3,418.4 577.4,426.9 577.5,415.3 577.5,416.9 577.6,427.2 577.6,442.8 577.7,429.1 577.8,426 577.8,436.2 577.9,441.9 577.9,442 578,441.1 578.1,439.3 578.1,437.1 578.2,435.7 578.2,439.4 578.3,421.5 578.3,428.8 578.4,436.1 578.5,431.5 578.5,439.5 578.6,434.5 578.6,433.8 578.7,426.9 578.8,437.6 578.8,450.9 578.9,436.5 578.9,438 579,425.1 579.1,424.8 579.1,433.2 579.2,432.7 579.2,443.1 579.3,448.1 579.3,444.2 579.4,441.3 579.5,451.9 579.5,441.7 579.6,437.5 579.6,431.6 579.7,444.8 579.8,439.3 579.8,444 579.9,446 579.9,437.5 580,438.9 580.1,436.6 580.1,433.4 580.2,430.2 580.2,441 580.3,447.6 580.3,443.8 580.4,440.5 580.5,446.1 580.5,442.9 580.6,448.5 580.6,448.4 580.7,447.5 580.8,445.2 580.8,441.4 580.9,444.7 580.9,444.1 581,449.2 581.1,443.7 581.1,441.4 581.2,446 581.2,435.8 581.3,440.3 581.3,444.1 581.4,447.1 581.5,444.9 581.5,444.8 581.6,448.8 581.6,445.7 581.7,441.2 581.8,436.7 581.8,438.4 581.9,443.6 581.9,448.8 582,445.8 582.1,440.8 582.1,433.4 582.2,440.8 582.2,448.9 582.3,453.2 582.3,449.9 582.4,446.7 582.5,451.1 582.5,455.8 582.6,462 582.6,454.2 582.7,459.6 582.8,453.9 582.8,453.8 582.9,461.5 582.9,462.8 583,454.7 583,454.1 583.1,454.8 583.2,449.4 583.2,451.4 583.3,452.2 583.3,452.6 583.4,453.1 583.5,449.4 583.5,453.6 583.6,449.8 583.6,445.9 583.7,451.5 583.8,451.1 583.8,457.3 583.9,456.2 583.9,451.2 584,449.4 584,453.4 584.1,452.2 584.2,451.8 584.2,453 584.3,453.7 584.3,447.4 584.4,460.7 584.5,461.2 584.5,456.1 584.6,456.8 584.6,455.5 584.7,455 584.8,456.6 584.8,456.8 584.9,459.7 584.9,458.8 585,455.5 585,452.7 585.1,452.8 585.2,455.7 585.2,457.9 585.3,463.8 585.3,462.1 585.4,463.8 585.5,464 585.5,462.9 585.6,460.9 585.6,459.4 585.7,459.1 585.8,462.7 585.8,462.7 585.9,458.9 585.9,459.3 586,457.8 586,458.2 586.1,453.6 586.2,450.4 586.2,447 586.3,452.3 586.3,452.5 586.4,459.3 586.5,456.2 586.5,454.9 586.6,456.7 586.6,451 586.7,451.9 586.8,458.6 586.8,450.9 586.9,451.3 586.9,448.3 587,452.3 587,455 587.1,458.5 587.2,459.8 587.2,452.4 587.3,448.3 587.3,455.8 587.4,452.5 587.5,449.9 587.5,452 587.6,447.7 587.6,450.4 587.7,442.4 587.8,444.1 587.8,442.3 587.9,461.8 587.9,456.5 588,450.1 588,449.9 588.1,447.1 588.2,449.7 588.2,439.5 588.3,445.4 588.3,444 588.4,431.1 588.5,424.8 588.5,429 588.6,440.1 588.6,451.4 588.7,441.2 588.8,436.2 588.8,436.7 588.9,436.8 588.9,418.1 589,415.8 589,420.9 589.1,425.5 589.2,429.2 589.2,425.5 589.3,427.5 589.3,425.2 589.4,428 589.5,420.4 589.5,420.5 589.6,432.5 589.6,405.5 589.7,411.7 589.8,421.8 589.8,434.3 589.9,431.1 589.9,435 590,418.7 590,418.7 590.1,427.8 590.2,442.7 590.2,431.3 590.3,444.2 590.3,434.8 590.4,431.9 590.5,452.7 590.5,445.8 590.6,426.8 590.6,435.2 590.7,450.9 590.8,456.1 590.8,446.6 590.9,438 590.9,428.7 591,427.5 591,436.3 591.1,437.6 591.2,436.8 591.2,435.7 591.3,443.6 591.3,433.7 591.4,424.3 591.5,428.1 591.5,428.2 591.6,439.2 591.6,434.4 591.7,439.3 591.8,443 591.8,432.1 591.9,430.8 591.9,434.7 592,446 592,440 592.1,423.9 592.2,424.4 592.2,425.3 592.3,418.3 592.3,407.1 592.4,412.1 592.5,411.5 592.5,417.4 592.6,418.6 592.6,419.7 592.7,415.1 592.8,424.5 592.8,424 592.9,423.7 592.9,426.6 593,432.3 593,424.7 593.1,429.3 593.2,441.3 593.2,430.6 593.3,441.1 593.3,430 593.4,449.2 593.5,440.9 593.5,421.7 593.6,425.9 593.6,417.6 593.7,424.9 593.8,432.2 593.8,432.7 593.9,423.4 593.9,415.2 594,409.3 594,410 594.1,417.6 594.2,437.8 594.2,440.1 594.3,423.9 594.3,438.6 594.4,431.1 594.5,427.1 594.5,441.2 594.6,434 594.6,435.5 594.7,431.8 594.7,432.1 594.8,433.1 594.9,439.2 594.9,451.2 595,429.5 595,436.8 595.1,436.6 595.2,437.4 595.2,437.3 595.3,440.6 595.3,432.8 595.4,432.5 595.5,435.9 595.5,438.8 595.6,432.2 595.6,438.8 595.7,431.8 595.7,421.6 595.8,417.3 595.9,418.5 595.9,436 596,428.3 596,427 596.1,417.8 596.2,426.9 596.2,431.5 596.3,419.6 596.3,429.6 596.4,420.6 596.5,421.4 596.5,443.5 596.6,441.3 596.6,440 596.7,446.1 596.7,454 596.8,443.5 596.9,445.8 596.9,444.4 597,445.7 597,440.9 597.1,432.2 597.2,424.6 597.2,422.2 597.3,427.6 597.3,429.4 597.4,424.5 597.5,416.2 597.5,421.8 597.6,434.6 597.6,429.7 597.7,424.1 597.7,429.4 597.8,419.3 597.9,426.5 597.9,427 598,424.3 598,412.7 598.1,428.2 598.2,423.6 598.2,418.7 598.3,423.1 598.3,416.4 598.4,426 598.5,436 598.5,442.6 598.6,442 598.6,444.9 598.7,433.5 598.7,430.7 598.8,441 598.9,422.2 598.9,421.9 599,437.4 599,448.4 599.1,439 599.2,422.6 599.2,426.6 599.3,418.3 599.3,407.6 599.4,408.7 599.5,418 599.5,431.9 599.6,434.7 599.6,419.2 599.7,420.9 599.7,430.7 599.8,431.5 599.9,430 599.9,417.3 600,424.6 600,407.1 600.1,411 600.2,412.1 600.2,426 600.3,420.4 600.3,418.3 600.4,412.6 600.5,422 600.5,419 600.6,433.4 600.6,437.1 600.7,407.4 600.7,416 600.8,424 600.9,412.6 600.9,415.9 601,390 601,399.5 601.1,398.6 601.2,407.6 601.2,398.8 601.3,404.7 601.3,380.6 601.4,401.4 601.5,401.8 601.5,399.1 601.6,416.7 601.6,421 601.7,426.2 601.7,438.7 601.8,425.3 601.9,450.8 601.9,449.6 602,447.5 602,431.5 602.1,426.5 602.2,411.4 602.2,400.8 602.3,405.3 602.3,419.7 602.4,411.3 602.5,421 602.5,422.8 602.6,420.4 602.6,404.6 602.7,383.6 602.7,385.3 602.8,403.2 602.9,400.2 602.9,395.1 603,412.7 603,413.4 603.1,421.9 603.2,426.4 603.2,422.2 603.3,419.2 603.3,426.3 603.4,422.9 603.5,433 603.5,428.8 603.6,423.3 603.6,425.9 603.7,437.8 603.7,437.6 603.8,426.4 603.9,414.2 603.9,407.1 604,402.3 604,392.5 604.1,407.4 604.2,401.3 604.2,416.2 604.3,401.1 604.3,399.3 604.4,417 604.5,411.7 604.5,405.7 604.6,419.1 604.6,416.5 604.7,410.1 604.7,397.2 604.8,411.9 604.9,401.3 604.9,418.6 605,427.4 605,412.8 605.1,409.6 605.2,421.5 605.2,407.8 605.3,409.1 605.3,412.7 605.4,419.2 605.5,443.8 605.5,435.4 605.6,422.1 605.6,423 605.7,416.8 605.7,420.5 605.8,409.7 605.9,441 605.9,430 606,436 606,429.9 606.1,422.5 606.2,414 606.2,412 606.3,407.8 606.3,423.9 606.4,424.1 606.4,443.7 606.5,434.6 606.6,445.7 606.6,430.2 606.7,428.2 606.7,431 606.8,435.8 606.9,432.1 606.9,436.3 607,445.4 607,436.7 607.1,441.4 607.2,434.1 607.2,440.8 607.3,446.8 607.3,424.7 607.4,423.9 607.4,419.1 607.5,427.2 607.6,430.6 607.6,432.6 607.7,419.7 607.7,421.5 607.8,426.8 607.9,431.1 607.9,433 608,427.5 608,431.3 608.1,433.5 608.2,426.2 608.2,424.6 608.3,425 608.3,417.7 608.4,427.1 608.4,439.5 608.5,450.3 608.6,447 608.6,443.4 608.7,437.1 608.7,448.2 608.8,454.3 608.9,451.6 608.9,450.6 609,456.5 609,453.4 609.1,447 609.2,448.3 609.2,435.1 609.3,436 609.3,444.8 609.4,447 609.4,454.8 609.5,440.5 609.6,444.9 609.6,447.8 609.7,444.1 609.7,447.6 609.8,451.4 609.9,450.7 609.9,444.7 610,441.1 610,451.4 610.1,458.9 610.2,452.8 610.2,453.1 610.3,454.1 610.3,447.1 610.4,446 610.4,450.2 610.5,447.1 610.6,452.1 610.6,454 610.7,443.3 610.7,447.3 610.8,445.8 610.9,449 610.9,451.2 611,456.4 611,459.6 611.1,449.8 611.2,439.4 611.2,440.6 611.3,441.8 611.3,448 611.4,449.3 611.4,442.6 611.5,433.2 611.6,436.9 611.6,440.5 611.7,439.3 611.7,443.2 611.8,449.9 611.9,454.5 611.9,454.3 612,454.9 612,464.6 612.1,467.7 612.2,457.3 612.2,450.3 612.3,446.9 612.3,449.8 612.4,453.6 612.4,453 612.5,451 612.6,453.5 612.6,447.8 612.7,452.6 612.7,463.2 612.8,455.6 612.9,450 612.9,451.7 613,447.2 613,443.8 613.1,458.9 613.2,454.4 613.2,459.1 613.3,453.3 613.3,451.9 613.4,448.4 613.4,451.3 613.5,454.6 613.6,452.7 613.6,441.9 613.7,444.4 613.7,452.5 613.8,452.9 613.9,454.1 613.9,448.1 614,449.6 614,452.5 614.1,452.1 614.2,455.7 614.2,452.9 614.3,458.1 614.3,458.5 614.4,456 614.4,461.3 614.5,464.3 614.6,463.8 614.6,454.5 614.7,451.6 614.7,453 614.8,450.3 614.9,449.3 614.9,454.6 615,459.7 615,454 615.1,457.8 615.2,455.2 615.2,462 615.3,460.6 615.3,464.1 615.4,459.3 615.4,456.2 615.5,455.8 615.6,454.3 615.6,458.2 615.7,457.3 615.7,456.1 615.8,460.4 615.9,458.1 615.9,457.8 616,457.1 616,459.1 616.1,459.7 616.2,458.4 616.2,458.9 616.3,457.7 616.3,463.3 616.4,459.3 616.4,462.6 616.5,458.6 616.6,464.4 616.6,465.2 616.7,463 616.7,461.2 616.8,462.9 616.9,465.5 616.9,462.2 617,458.9 617,463.2 617.1,466.9 617.2,467.2 617.2,469.4 617.3,474 617.3,474.5 617.4,469.4 617.4,471.1 617.5,472.2 617.6,465.5 617.6,462.9 617.7,459.5 617.7,462.9 617.8,465.5 617.9,468 617.9,472.9 618,478 618,474.6 618.1,474.9 618.1,470.5 618.2,466.9 618.3,472.8 618.3,476 618.4,472.8 618.4,467.1 618.5,463.2 618.6,468.2 618.6,468.9 618.7,464.9 618.7,469.6 618.8,473.3 618.9,468 618.9,471.5 619,475.3 619,468.6 619.1,471.2 619.1,472.7 619.2,470.5 619.3,466.2 619.3,466 619.4,467.7 619.4,468.2 619.5,468.5 619.6,469.2 136.8,154.7 134.6,162.8 136.2,166.2 135.8,185.4 134.8,189.5 136.4,206.6 135.2,208.2 133.2,208.6 135.8,209.3 132.8,216.7 132.2,219.3 135.8,223.2 137.2,224.8 131.6,225.8 134.6,225.8 135.2,227.8 136.8,232.3 124.1,232.1 128.3,234.9 135.8,234.5 134.2,238.5 135.2,237.9 137.8,239.5 133.8,238.9 126.7,242.6 133.8,244 136.8,246.4 135.8,247 132.8,252.7 126.7,254.7 135.2,254.1 130.1,258.1 132.2,258.1 134.2,257.1 136.2,258.1 137.6,258.7 171.5,221.8 164.1,253.7 171.1,254.5 169.9,257.1 193.7,226.4 192.1,231.3 188.7,233.3 194.1,237.3 189.3,243 186.7,253.7 192.7,252.1 193.7,253.1 196.4,252.5 191.3,256.1 193.7,256.1 194.8,257.1 187.7,258.1 189.7,258.7 338.6,154.3 317.8,159.9 317.4,162.8 312.9,166.8 298.2,168.2 338.1,169.2 328.9,174.9 317.8,180.5 316.7,184.6 339.2,184 329.5,185.4 335.7,187.8 318.4,189.8 298.8,191 322.8,191.8 329.1,191.4 338.6,191.4 343,195.5 341.2,196.7 317.4,196.1 312.7,198.9 318,199.5 302.2,199.9 336.1,199.5 312.3,205.2 318.4,204.6 338.1,205 298.2,206.2 303.4,206.2 327.9,206 312.7,209 297.6,210.6 302.6,212 305.2,215.1 301.8,215.7 316.9,213.6 320.4,211.6 340,213.6 338.1,216.7 320.8,217.3 323,218.9 330.5,219.7 344,220.7 318.4,220.1 313.3,221.1 297.2,222.1 302.2,222.5 339.6,223.1 312.9,223.7 318.4,224.8 323,225 338.6,225.4 305.2,226.6 303.6,227.8 346,227.4 319.4,227.4 297.8,226.8 312.3,228.2 330.5,229.8 294.5,230.8 297.6,231.4 316.3,230.8 336.9,231.4 308.3,233.4 313.3,233.8 324.4,232.2 326.8,236.9 319.4,237.5 305.8,238.5 346.6,233.8 342.2,234.8 357.7,239.5 351.7,233 347.2,233 383.6,243.3 385.6,254 400.5,256"/>
<polyline fill="none" stroke="#0000ff" stroke-width="1.35" stroke-linejoin="round" points="113.4,399.3 116.1,398.3 117.1,415.5 118.1,429.6 119.1,431.6 120.1,425.6 121.7,436.7 123.1,415.5 124.1,385.2 125.1,365 127.2,348.8 127.8,353.9 128.6,346.8 130.2,329.6 131.8,327.6 133.2,308.4 135.6,270.1 137.3,302.4 138.3,338.7 139.9,371 140.7,374.1 143.3,391.2 145.3,401.3 147.8,412.4 150.4,395.3 152,391.2 153.4,381.2 155.4,365 157.4,353.9 158.5,354.9 160.1,341.8 161.5,341.8 163.5,331.7 165.5,344.8 167.1,358.9 168.6,367 170.2,337.7 171.6,344.8 173,346.8 174.2,356.9 174.6,377.1 175.6,385.2 177,397.3 178.2,383.2 179.7,371.1 180.7,367 182.7,342.8 184.3,325.6 186.3,319.5 187.7,326.6 189.8,337.7 191.2,320.6 192.8,302.4 194.4,328.6 195.8,348.8 197.8,367 199.8,383.2 201.9,398.3 203.3,403.4 204.9,397.3 206.5,385.2 207.9,391.2 208.9,399.3 210.3,387.2 212,371.1 213,369 214.6,379.1 216,379.1 217,387.2 218.6,391.2 220,405.4 221.4,417.5 223.1,395.3 224.7,377.1 226.1,358.9 227.7,345.8 229.1,350.8 230.7,369 231.1,377.1 233.2,390.2 234.8,373.1 235.6,371.1 236.8,375.1 238.2,381.2 239.2,380.1 240.8,373.1 242,361.2 243.5,366.8 245.2,355 246.7,348.8 247.9,356.9 248.9,375.1 249.7,383.2 251.3,384.2 252.9,385.2 254.4,393.3 255.8,401.3 257,398.3 258.4,385.2 259.8,387.2 261.4,397.3 263.8,402.4 265.9,397.3 268.5,387.2 270.5,379.1 272.1,379.1 274.1,363 275.6,375.1 276.6,395.3 278,393 279.5,382 281,367.4 283,361.4 284.6,342.2 285.3,333.1 286.6,347.2 287.4,354.3 288.6,342.2 289.6,333.1 290.6,350.3 291.6,360.9 292.6,342.2 293.6,322 295,314 296.2,313.5 297.7,270.6 299.2,322 300,342.2 300.7,352.3 301.4,332.1 302,322 302.5,285.7 304,322 305.1,331.1 306.3,342.2 307.8,356.3 308.6,342.2 309.3,335.1 310.1,339.2 310.8,347.2 311.5,332.1 312.3,322 313.3,276.6 314.5,322 315.6,333.1 316.7,322 317.7,270.6 320.4,322 321.6,339.7 322.4,322 323.4,296.3 324.6,322 326,335.1 327.3,322 328.3,315 329.7,322 330.5,332.1 331.5,352.3 332.2,369.4 333,352.3 333.8,348.2 334.5,349.3 335.3,337.1 336,322 338.6,296.8 339.4,322 340.1,335.1 340.8,348.2 341.8,330.1 343.1,342.2 344.6,352.3 345.8,346.2 346.9,340.2 348.2,351.3 349.5,361.9 350.2,347.2 350.9,337.1 351.7,349.3 352.5,359.4 353.2,347.2 353.9,342.2 354.7,355.3 355.5,365.4 356.2,347.2 356.9,332.1 357.5,325.5 358.1,342.2 358.6,362.4 359.1,382 359.2,395.2 360.2,408.3 361.6,392.7 362.6,410.3 363.9,435 364.1,434.7 364.6,405.3 365.6,378 366.6,385.1 367.6,398.2 368.6,381.1 370.1,375 372,362.9 372.7,375 373.2,390.1 374.2,411.8 375,390.1 375.7,377.5 376.7,385.1 378.2,400.2 379.7,406.8 380.2,390.1 380.7,375 381.8,359.4 383.3,342.2 384.3,333.6 385.3,342.2 386.1,346.2 387.3,336.6 388.8,350.3 390.8,364.4 392,380 393.2,401.8 394.2,362.4 394.9,342.2 396.2,362.4 397.4,376.5 398.6,357.3 400.2,336.1 402.4,345.2 403.5,352.3 404.5,382 405.5,387.1 406.5,395.2 407.5,410.3 408.7,428.5 409.5,410.3 410.5,395.2 411.7,394.2 413,400.2 414.6,415.4 415.6,425.5 416.8,435 416.9,452.8 418.1,415.4 419.8,404.3 421.1,415.4 422.4,433.6 424.2,417.4 426.2,430 427.2,415.4 428.4,402.3 429.4,407.3 430.2,406.3 431.2,409.3 432.2,414.4 433.2,395.2 434.2,380 434.8,375 435.6,356.1 436.3,352.5 437.1,362.1 438.6,350 440.3,337.4 442.1,350 443.6,367.2 445.3,384.3 446.7,365.1 448.2,350 449.2,345.9 449.7,350 450.7,365.1 451.4,377.3 452.2,350 453.9,333.3 454.7,350 455.7,370.2 457.3,382.3 458.8,390.9 460.1,376.8 461.3,382.3 462.5,386.3 463.3,382.3 464.3,390.4 465.1,394.9 467.4,388.4 470.4,379.3 471.9,373.2 472.9,371.2 474.4,382.3 476.2,393.4 478,388.4 479.5,391.4 481.5,385.3 482.5,395.4 483,410 483.3,410.1 484,419.7 485,410.1 486,406.6 487.5,411.1 488.6,413.6 490.1,409.1 491.3,406.6 492.6,415.1 494.6,430.3 496.6,442.4 498.6,453.5 499.7,459.3 500.7,445.4 501.7,433.3 502.7,432.3 503.7,425.2 505.2,410.1 506.2,400 506.7,399.5 507.7,406.1 508.7,417.2 510,405.2 511.3,395.1 512.6,390 514.1,394.1 515.6,397.1 517.1,392.1 518.1,390.6 519.1,395.1 520.1,401.2 521.7,405.7 522.7,405.2 523.7,403.2 524.7,405.2 525.7,407.7 526.7,406.7 528.2,409.2 529.7,410.7 531,414.3 532.3,410.2 533.3,410.7 534.3,414.8 535.3,405.2 535.8,395.1 536.5,385 536.8,365.3 537.1,346.1 538.8,362.3 540.8,356.7 543.4,367.3 545.4,359.2 546.9,370.3 547.9,380.4 548.6,388.5 550.4,389.5 552.4,390 553.5,391.1 554.5,395.1 555.5,405.2 557,416.3 558.5,421.8 560,419.3 561,410.2 562,395.1 563,385 563.8,385 565.1,389 566.6,400.1 567.8,418.3 568.7,435.1 569.7,447.2 570.7,454.3 572.3,452.8 573.3,440.1 574.3,429 575.3,428 577.3,426.5 578.8,433.1 580.3,442.2 581.8,450.2 583.4,456.3 584.9,459.3 586.4,461.8 587.4,450.2 588.4,435.1 589.2,425 589.4,421 590.3,428.5 592.3,430.5 593.8,429.5 595.5,433 597.4,430.5 599.4,427.4 600.4,422.4 601.2,415.3 601.9,412.8 602.9,418.4 604.4,419.9 605.9,424.4 606.9,430.5 608.5,440 609.1,447.2 610.6,450.2 612.1,451.2 614.2,453.3 615.7,459.3 617.2,462.9"/>
</g>
<!-- frame -->
<rect x="113.4" y="84.5" width="510" height="396.9" fill="none" stroke="#000" stroke-width="1.3"/>
<line x1="113.4" y1="481.4" x2="113.4" y2="487.5" stroke="#000" stroke-width="0.8"/>
<line x1="113.4" y1="84.5" x2="113.4" y2="78.9" stroke="#000" stroke-width="0.8"/>
<line x1="134.7" y1="481.4" x2="134.7" y2="484.5" stroke="#000" stroke-width="0.75"/>
<line x1="134.7" y1="84.5" x2="134.7" y2="81.8" stroke="#000" stroke-width="0.75"/>
<line x1="155.9" y1="481.4" x2="155.9" y2="484.5" stroke="#000" stroke-width="0.75"/>
<line x1="155.9" y1="84.5" x2="155.9" y2="81.8" stroke="#000" stroke-width="0.75"/>
<line x1="177.2" y1="481.4" x2="177.2" y2="484.5" stroke="#000" stroke-width="0.75"/>
<line x1="177.2" y1="84.5" x2="177.2" y2="81.8" stroke="#000" stroke-width="0.75"/>
<line x1="198.4" y1="481.4" x2="198.4" y2="484.5" stroke="#000" stroke-width="0.75"/>
<line x1="198.4" y1="84.5" x2="198.4" y2="81.8" stroke="#000" stroke-width="0.75"/>
<line x1="219.7" y1="481.4" x2="219.7" y2="484.5" stroke="#000" stroke-width="0.75"/>
<line x1="219.7" y1="84.5" x2="219.7" y2="81.8" stroke="#000" stroke-width="0.75"/>
<line x1="241" y1="481.4" x2="241" y2="487.5" stroke="#000" stroke-width="0.8"/>
<line x1="241" y1="84.5" x2="241" y2="78.9" stroke="#000" stroke-width="0.8"/>
<line x1="262.2" y1="481.4" x2="262.2" y2="484.5" stroke="#000" stroke-width="0.75"/>
<line x1="262.2" y1="84.5" x2="262.2" y2="81.8" stroke="#000" stroke-width="0.75"/>
<line x1="283.5" y1="481.4" x2="283.5" y2="484.5" stroke="#000" stroke-width="0.75"/>
<line x1="283.5" y1="84.5" x2="283.5" y2="81.8" stroke="#000" stroke-width="0.75"/>
<line x1="304.7" y1="481.4" x2="304.7" y2="484.5" stroke="#000" stroke-width="0.75"/>
<line x1="304.7" y1="84.5" x2="304.7" y2="81.8" stroke="#000" stroke-width="0.75"/>
<line x1="326" y1="481.4" x2="326" y2="484.5" stroke="#000" stroke-width="0.75"/>
<line x1="326" y1="84.5" x2="326" y2="81.8" stroke="#000" stroke-width="0.75"/>
<line x1="347.2" y1="481.4" x2="347.2" y2="484.5" stroke="#000" stroke-width="0.75"/>
<line x1="347.2" y1="84.5" x2="347.2" y2="81.8" stroke="#000" stroke-width="0.75"/>
<line x1="368.5" y1="481.4" x2="368.5" y2="487.5" stroke="#000" stroke-width="0.8"/>
<line x1="368.5" y1="84.5" x2="368.5" y2="78.9" stroke="#000" stroke-width="0.8"/>
<line x1="389.8" y1="481.4" x2="389.8" y2="484.5" stroke="#000" stroke-width="0.75"/>
<line x1="389.8" y1="84.5" x2="389.8" y2="81.8" stroke="#000" stroke-width="0.75"/>
<line x1="411" y1="481.4" x2="411" y2="484.5" stroke="#000" stroke-width="0.75"/>
<line x1="411" y1="84.5" x2="411" y2="81.8" stroke="#000" stroke-width="0.75"/>
<line x1="432.3" y1="481.4" x2="432.3" y2="484.5" stroke="#000" stroke-width="0.75"/>
<line x1="432.3" y1="84.5" x2="432.3" y2="81.8" stroke="#000" stroke-width="0.75"/>
<line x1="453.5" y1="481.4" x2="453.5" y2="484.5" stroke="#000" stroke-width="0.75"/>
<line x1="453.5" y1="84.5" x2="453.5" y2="81.8" stroke="#000" stroke-width="0.75"/>
<line x1="474.8" y1="481.4" x2="474.8" y2="484.5" stroke="#000" stroke-width="0.75"/>
<line x1="474.8" y1="84.5" x2="474.8" y2="81.8" stroke="#000" stroke-width="0.75"/>
<line x1="496.1" y1="481.4" x2="496.1" y2="487.5" stroke="#000" stroke-width="0.8"/>
<line x1="496.1" y1="84.5" x2="496.1" y2="78.9" stroke="#000" stroke-width="0.8"/>
<line x1="517.3" y1="481.4" x2="517.3" y2="484.5" stroke="#000" stroke-width="0.75"/>
<line x1="517.3" y1="84.5" x2="517.3" y2="81.8" stroke="#000" stroke-width="0.75"/>
<line x1="538.6" y1="481.4" x2="538.6" y2="484.5" stroke="#000" stroke-width="0.75"/>
<line x1="538.6" y1="84.5" x2="538.6" y2="81.8" stroke="#000" stroke-width="0.75"/>
<line x1="559.8" y1="481.4" x2="559.8" y2="484.5" stroke="#000" stroke-width="0.75"/>
<line x1="559.8" y1="84.5" x2="559.8" y2="81.8" stroke="#000" stroke-width="0.75"/>
<line x1="581.1" y1="481.4" x2="581.1" y2="484.5" stroke="#000" stroke-width="0.75"/>
<line x1="581.1" y1="84.5" x2="581.1" y2="81.8" stroke="#000" stroke-width="0.75"/>
<line x1="602.3" y1="481.4" x2="602.3" y2="484.5" stroke="#000" stroke-width="0.75"/>
<line x1="602.3" y1="84.5" x2="602.3" y2="81.8" stroke="#000" stroke-width="0.75"/>
<line x1="107.3" y1="481.4" x2="113.4" y2="481.4" stroke="#000" stroke-width="0.8"/>
<line x1="623.6" y1="481.4" x2="629.6" y2="481.4" stroke="#000" stroke-width="0.6"/>
<line x1="110.2" y1="442.5" x2="113.4" y2="442.5" stroke="#000" stroke-width="0.6"/>
<line x1="623.6" y1="442.5" x2="626.8" y2="442.5" stroke="#000" stroke-width="0.6"/>
<line x1="110.2" y1="402.5" x2="113.4" y2="402.5" stroke="#000" stroke-width="0.6"/>
<line x1="623.6" y1="402.5" x2="626.8" y2="402.5" stroke="#000" stroke-width="0.6"/>
<line x1="110.2" y1="362.5" x2="113.4" y2="362.5" stroke="#000" stroke-width="0.6"/>
<line x1="623.6" y1="362.5" x2="626.8" y2="362.5" stroke="#000" stroke-width="0.6"/>
<line x1="110.2" y1="322.5" x2="113.4" y2="322.5" stroke="#000" stroke-width="0.6"/>
<line x1="623.6" y1="322.5" x2="626.8" y2="322.5" stroke="#000" stroke-width="0.6"/>
<line x1="107.3" y1="283.5" x2="113.4" y2="283.5" stroke="#000" stroke-width="0.8"/>
<line x1="623.6" y1="283.5" x2="629.6" y2="283.5" stroke="#000" stroke-width="0.6"/>
<line x1="110.2" y1="243.5" x2="113.4" y2="243.5" stroke="#000" stroke-width="0.6"/>
<line x1="623.6" y1="243.5" x2="626.8" y2="243.5" stroke="#000" stroke-width="0.6"/>
<line x1="110.2" y1="203.5" x2="113.4" y2="203.5" stroke="#000" stroke-width="0.6"/>
<line x1="623.6" y1="203.5" x2="626.8" y2="203.5" stroke="#000" stroke-width="0.6"/>
<line x1="110.2" y1="164.5" x2="113.4" y2="164.5" stroke="#000" stroke-width="0.6"/>
<line x1="623.6" y1="164.5" x2="626.8" y2="164.5" stroke="#000" stroke-width="0.6"/>
<line x1="110.2" y1="124.5" x2="113.4" y2="124.5" stroke="#000" stroke-width="0.6"/>
<line x1="623.6" y1="124.5" x2="626.8" y2="124.5" stroke="#000" stroke-width="0.6"/>
<line x1="107.3" y1="84.5" x2="113.4" y2="84.5" stroke="#000" stroke-width="0.8"/>
<line x1="623.6" y1="84.5" x2="629.6" y2="84.5" stroke="#000" stroke-width="0.6"/>
<!-- y labels -->
<text x="89.1" y="90.8" font-size="20" text-anchor="middle">1</text>
<text transform="translate(99.2,90.8) scale(1.146,0.936)" font-size="20" text-anchor="middle">0</text>
<text x="98.8" y="290.2" font-size="20" text-anchor="middle">5</text>
<text transform="translate(97.9,488) scale(1.16,0.95)" font-size="20" text-anchor="middle">0</text>
<!-- x labels -->
<text transform="translate(95.9,507.1) scale(1.146,0.936)" font-size="20" text-anchor="middle">0</text>
<text transform="translate(105.9,507.1) scale(1.146,0.936)" font-size="20" text-anchor="middle">0</text>
<text x="113.7" y="507.1" font-size="20" text-anchor="middle">:</text>
<text transform="translate(121.5,507.1) scale(1.146,0.936)" font-size="20" text-anchor="middle">0</text>
<text transform="translate(131.5,507.1) scale(1.146,0.936)" font-size="20" text-anchor="middle">0</text>
<text transform="translate(223.8,507.1) scale(1.146,0.936)" font-size="20" text-anchor="middle">0</text>
<text x="233.8" y="507.1" font-size="20" text-anchor="middle">6</text>
<text x="241.6" y="507.1" font-size="20" text-anchor="middle">:</text>
<text transform="translate(249.4,507.1) scale(1.146,0.936)" font-size="20" text-anchor="middle">0</text>
<text transform="translate(259.4,507.1) scale(1.146,0.936)" font-size="20" text-anchor="middle">0</text>
<text x="352.9" y="507.1" font-size="20" text-anchor="middle">1</text>
<text x="362.2" y="507.1" font-size="20" text-anchor="middle">2</text>
<text x="369.6" y="507.1" font-size="20" text-anchor="middle">:</text>
<text transform="translate(377.4,507.1) scale(1.146,0.936)" font-size="20" text-anchor="middle">0</text>
<text transform="translate(387.4,507.1) scale(1.146,0.936)" font-size="20" text-anchor="middle">0</text>
<text x="480.6" y="507.1" font-size="20" text-anchor="middle">1</text>
<text x="489.9" y="507.1" font-size="20" text-anchor="middle">8</text>
<text x="497.3" y="507.1" font-size="20" text-anchor="middle">:</text>
<text transform="translate(505.1,507.1) scale(1.146,0.936)" font-size="20" text-anchor="middle">0</text>
<text transform="translate(515.1,507.1) scale(1.146,0.936)" font-size="20" text-anchor="middle">0</text>
<text x="369.4" y="526.7" font-size="20" text-anchor="middle">Nov-23</text>
<text x="369.8" y="550.4" font-size="24" text-anchor="middle">(LST)</text>
<!-- legend -->
<rect x="637.7" y="453.4" width="185" height="28" fill="#fff" stroke="#000" stroke-width="1.1"/>
<line x1="643.2" y1="467.4" x2="655" y2="467.4" stroke="#0000ff" stroke-width="1.1"/>
<circle cx="649" cy="467.4" r="1.4" fill="#b8b8ff" stroke="#7070ff" stroke-width="0.6"/>
<text id="leg" x="660.5" y="472.9" font-size="18">Wind Speed</text>
<!-- credits -->
<text id="c1" x="779.5" y="533.4" font-size="12" style="stroke-width:0.1px" text-anchor="end">©TERC, Univ. Tsukuba</text>
<text id="c2" x="823" y="549.9" font-size="13.9" style="stroke-width:0.1px" text-anchor="end">Observed at TERC Tower site</text>
<text id="c3" x="823" y="566.8" font-size="13.9" style="stroke-width:0.1px" text-anchor="end">Created Automatically at 2007-11-23/23:55:56</text>
<text id="c4" x="823" y="583.5" font-size="13.9" style="stroke-width:0.1px" text-anchor="end">Data source : /home/hojyo/new/TERC-data/sorted_data/FLUX.10s.dat</text>
<!-- logo -->
<g id="logo" transform="translate(785,504)">
<clipPath id="lc"><rect x="0" y="0" width="34" height="34"/></clipPath>
<rect x="0" y="0" width="34" height="34" fill="#0066ff"/>
<g clip-path="url(#lc)" fill="none" stroke="#fff">
<circle cx="17" cy="1.4" r="19.65" stroke-width="1.15"/>
<circle cx="17" cy="1.4" r="21.5" stroke-width="1.1"/>
<circle cx="17" cy="1.4" r="23.3" stroke-width="1.1"/>
</g>
<rect x="0" y="25.3" width="34" height="8.7" fill="#0066ff"/>
<rect x="0" y="21" width="3" height="6" fill="#0066ff"/><rect x="31" y="21" width="3" height="6" fill="#0066ff"/>
<path d="M11.3,-0.2 L12.2,2.2 L13.3,3.8 L14.6,5 L15.4,5.8 L19.6,5.8 L20.6,5 L21.8,3.8 L22.4,2.2 L23,-0.2 Z" fill="#fff"/>
<path d="M17.15,8 L17.9,10 L19.3,12 L20.2,13.6 L20.1,15.4 L19.1,17 L18.6,17.5 L15.9,17.5 L15.2,16.6 L14.2,15.2 L14.1,13.4 L15.4,12 L16.5,10 Z" fill="#fff"/>
<g fill="none" stroke="#fff" stroke-width="1.05">
<path d="M1.1,27.6H5.8M3.45,27.6V32.8"/>
<path d="M14.5,27.6H10.6V32.2H14.7M10.6,29.9H13.2" />
<path d="M19.8,32.8V27.6H23.2Q24.5,27.7 24.5,28.8Q24.5,29.9 23.2,30H19.8M21.6,30L24.8,32.7"/>
<path d="M34,27.7H31.2Q28.9,27.9 28.9,30Q28.9,32.1 31.2,32.2H34"/>
</g>
</g>
</svg>
</body></html>
